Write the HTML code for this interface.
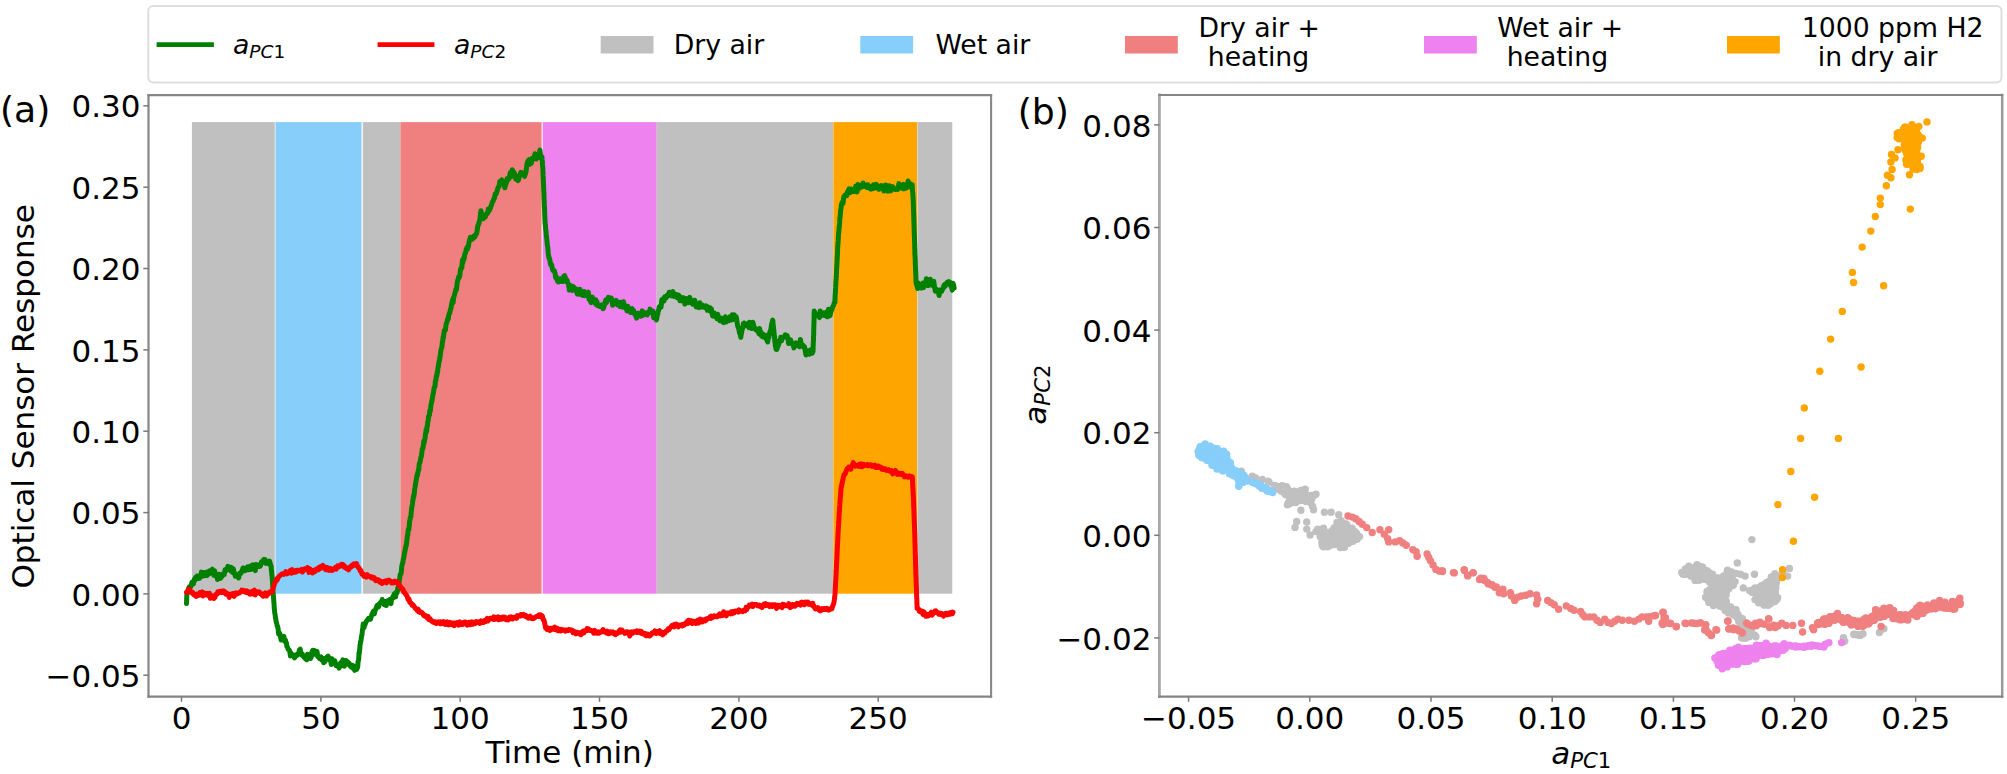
<!DOCTYPE html>
<html lang="en"><head><meta charset="utf-8"><title>Optical sensor response: PCA scores</title>
<style>html,body{margin:0;padding:0;background:#fff}body{width:2007px;height:774px;overflow:hidden}svg text{white-space:pre}</style></head>
<body>
<svg width="2007" height="774" viewBox="0 0 2007 774" style="display:block" font-family="DejaVu Sans, Liberation Sans, sans-serif" fill="#000">
<rect width="2007" height="774" fill="#fff"/>
<rect x="191.9" y="122.1" width="82.9" height="471.6" fill="#c0c0c0"/>
<rect x="275.5" y="122.1" width="86.0" height="471.6" fill="#87cefa"/>
<rect x="362.8" y="122.1" width="37.6" height="471.6" fill="#c0c0c0"/>
<rect x="400.4" y="122.1" width="141.2" height="471.6" fill="#f08080"/>
<rect x="542.7" y="122.1" width="114.0" height="471.6" fill="#ee82ee"/>
<rect x="656.7" y="122.1" width="176.3" height="471.6" fill="#c0c0c0"/>
<rect x="833.3" y="122.1" width="83.9" height="471.6" fill="#ffa500"/>
<rect x="917.5" y="122.1" width="34.8" height="471.6" fill="#c0c0c0"/>
<polyline points="186.5,603.6 186.6,601.8 186.7,599.7 186.7,597.5 186.8,595.5 187.2,592.8 187.6,592.1 188.0,592.0 188.7,588.1 189.3,586.9 190.0,587.7 190.7,586.5 191.3,585.0 192.0,582.2 192.7,583.1 193.4,583.8 194.2,579.5 194.9,580.5 195.6,577.3 196.3,577.8 197.1,576.2 197.8,578.5 198.5,576.0 199.2,578.4 199.9,577.9 200.7,576.8 201.4,572.1 202.1,575.5 202.8,576.0 203.6,575.9 204.3,572.5 205.0,574.1 205.7,572.7 206.3,572.6 207.0,575.6 207.7,571.7 208.3,572.7 209.0,574.0 209.7,570.8 210.4,571.3 211.0,571.2 211.7,570.7 212.4,569.2 213.1,572.2 213.8,575.2 214.6,570.8 215.3,575.8 216.0,575.2 216.8,574.2 217.5,579.5 218.2,577.5 219.0,574.2 219.8,577.0 220.5,578.3 221.2,575.8 222.0,576.3 222.8,574.0 223.5,574.2 224.2,574.5 225.0,569.8 225.7,570.8 226.4,568.9 227.2,569.4 227.9,566.4 228.6,566.9 229.3,566.9 230.0,569.7 230.6,570.9 231.3,567.4 232.0,569.2 232.7,572.5 233.3,568.7 234.0,572.2 234.7,573.3 235.3,576.3 236.0,575.8 236.7,574.5 237.3,574.9 238.0,575.6 238.7,577.9 239.4,573.6 240.1,573.0 240.9,573.2 241.6,571.5 242.3,570.5 243.0,568.0 243.7,569.5 244.3,568.3 244.9,570.8 245.6,569.4 246.2,567.7 246.9,568.6 247.6,566.9 248.4,569.8 249.1,568.0 249.8,569.4 250.5,566.0 251.3,569.4 252.0,565.7 252.7,564.8 253.3,567.4 254.0,565.8 254.7,567.3 255.3,570.6 256.0,564.4 256.7,564.6 257.3,566.1 258.0,566.5 258.7,565.0 259.3,564.8 260.0,566.3 260.7,565.2 261.5,561.7 262.2,562.7 262.9,562.2 263.7,559.5 264.4,561.2 265.1,559.6 265.8,563.4 266.6,562.4 267.3,562.7 268.0,561.9 268.8,563.6 269.5,561.1 270.2,563.4 271.0,566.7 271.2,566.2 271.4,570.9 271.6,570.5 271.8,574.8 272.0,575.3 272.2,578.7 272.4,580.1 272.5,581.0 272.6,584.7 272.7,586.8 272.9,587.8 273.0,589.6 273.1,591.6 273.2,593.0 273.4,596.6 273.5,597.4 273.7,599.8 273.8,601.3 274.0,603.4 274.1,605.0 274.3,609.1 274.5,609.8 274.7,612.9 275.0,613.9 275.2,615.2 275.4,617.4 275.8,619.1 276.2,621.9 276.7,623.4 277.1,625.6 277.5,626.1 278.1,628.7 278.6,634.1 279.2,632.6 279.8,633.8 280.5,637.1 281.1,640.0 281.8,636.4 282.5,639.6 283.2,638.7 283.9,636.4 284.6,641.3 285.3,639.8 285.9,641.9 286.4,642.9 286.9,646.6 287.5,647.2 288.2,649.4 289.0,649.6 289.7,650.9 290.4,656.0 291.1,653.1 291.8,655.0 292.5,654.9 293.2,654.8 293.9,655.3 294.5,657.9 295.2,656.8 296.0,655.7 296.7,654.5 297.5,655.0 298.2,653.5 298.8,652.2 299.5,649.7 300.2,649.2 300.9,654.1 301.6,655.0 302.3,653.9 303.0,656.0 303.8,657.0 304.5,657.7 305.2,658.5 306.0,656.5 306.8,659.8 307.5,654.3 308.2,657.8 309.0,656.7 309.8,657.0 310.5,658.5 311.2,657.2 312.0,651.9 312.8,650.3 313.5,654.4 314.2,650.5 315.0,651.9 315.7,654.3 316.3,651.2 317.0,651.4 317.7,656.4 318.3,657.1 319.0,657.6 319.7,658.6 320.3,657.5 321.0,656.9 321.7,659.9 322.4,658.9 323.0,658.3 323.7,662.8 324.4,661.1 325.1,661.3 325.9,658.1 326.6,658.1 327.3,656.8 328.0,656.2 328.7,658.9 329.3,657.7 330.0,660.3 330.7,660.8 331.3,664.5 332.0,658.8 332.7,663.5 333.3,662.3 334.0,663.0 334.7,660.7 335.5,663.0 336.2,665.7 336.9,664.5 337.6,665.3 338.4,665.0 339.1,668.1 339.8,666.3 340.6,662.7 341.3,665.9 342.0,662.9 342.8,659.8 343.5,663.7 344.3,666.2 345.0,663.1 345.7,660.5 346.4,660.6 347.2,664.3 347.9,662.1 348.6,662.7 349.3,663.4 349.9,664.5 350.6,666.7 351.3,667.1 352.0,667.4 352.7,665.4 353.3,668.6 354.0,666.7 354.6,670.4 355.3,666.3 355.9,668.8 356.6,669.4 357.0,665.9 357.4,668.0 357.8,665.8 358.1,661.3 358.5,660.5 358.8,657.8 359.0,652.7 359.3,653.2 359.5,650.7 359.8,648.7 360.0,645.4 360.3,643.9 360.5,641.8 360.9,641.2 361.3,638.0 361.7,635.4 362.0,635.0 362.4,630.3 362.8,628.3 363.2,624.0 363.9,627.7 364.6,625.4 365.3,623.9 366.0,622.1 366.8,620.6 367.5,620.1 368.3,618.6 369.0,618.1 369.8,617.9 370.5,619.2 371.3,616.5 372.0,614.4 372.8,612.4 373.5,611.2 374.3,613.8 375.0,610.9 375.7,609.2 376.4,607.5 377.2,605.3 377.9,606.1 378.6,606.8 379.4,603.7 380.1,603.0 380.8,602.1 381.5,602.8 382.2,599.5 382.9,602.3 383.6,601.1 384.3,604.7 385.0,601.5 385.7,603.9 386.3,605.5 387.0,601.7 387.6,600.9 388.3,602.2 388.9,601.6 389.6,599.6 390.3,601.5 391.0,603.6 391.6,598.9 392.3,598.3 393.0,596.2 393.6,597.7 394.3,594.1 394.9,593.5 395.6,596.8 396.2,592.3 396.8,593.0 397.4,591.4 397.9,587.5 398.5,585.7 398.9,585.2 399.3,580.3 399.8,577.6 400.2,574.5 400.6,574.0 401.0,573.7 401.4,571.1 401.7,566.8 402.1,564.9 402.5,563.3 402.9,562.3 403.2,559.7 403.6,558.3 404.0,556.4 404.4,553.5 404.8,551.7 405.2,549.9 405.6,547.5 405.9,546.1 406.3,545.6 406.7,541.9 407.1,539.2 407.5,535.0 407.8,535.3 408.1,530.7 408.4,529.2 408.8,529.6 409.1,527.4 409.4,524.3 409.7,520.5 410.0,519.9 410.3,517.5 410.6,516.9 410.9,516.6 411.2,512.2 411.6,509.1 411.9,506.5 412.2,505.7 412.5,503.5 412.8,500.3 413.1,499.6 413.4,496.1 413.8,496.6 414.1,494.4 414.4,492.4 414.7,488.6 415.0,487.6 415.4,484.8 415.8,482.3 416.2,480.3 416.7,477.0 417.1,474.8 417.5,475.5 417.9,472.2 418.3,470.6 418.8,469.5 419.2,464.0 419.6,463.1 420.0,462.2 420.4,460.4 420.8,457.4 421.2,457.0 421.7,453.9 422.1,450.1 422.5,448.3 422.9,448.4 423.3,445.9 423.8,440.9 424.2,442.9 424.6,439.8 425.0,438.7 425.4,434.5 425.8,432.5 426.2,429.4 426.6,431.8 427.0,426.4 427.4,426.5 427.8,421.7 428.2,420.6 428.6,416.2 429.0,415.8 429.4,415.4 429.8,410.5 430.2,411.3 430.6,408.3 431.0,404.6 431.4,403.2 431.8,401.1 432.2,399.6 432.6,396.9 433.0,394.4 433.4,393.0 433.8,390.0 434.2,387.6 434.6,387.1 435.0,386.2 435.4,381.1 435.8,380.9 436.1,378.1 436.5,375.6 436.9,375.7 437.2,372.0 437.6,372.3 438.0,367.5 438.3,366.8 438.7,363.9 439.1,361.2 439.4,360.7 439.8,357.8 440.1,356.6 440.5,353.7 440.9,350.4 441.2,349.5 441.6,347.6 442.0,346.6 442.3,342.3 442.7,341.2 443.1,337.1 443.4,337.9 443.8,333.6 444.3,330.5 444.9,330.8 445.4,330.3 446.0,324.7 446.5,323.2 447.1,321.6 447.6,319.0 448.2,319.1 448.7,315.4 449.3,313.4 449.8,313.2 450.4,309.3 450.9,308.8 451.5,304.8 452.0,302.4 452.6,299.5 453.1,302.6 453.7,297.4 454.2,296.0 454.8,293.5 455.4,291.6 455.9,289.3 456.5,289.7 457.1,283.5 457.6,280.6 458.2,279.2 458.7,276.7 459.2,277.5 459.8,275.5 460.3,271.0 460.8,268.4 461.3,267.7 461.8,268.0 462.4,260.2 462.9,262.7 463.4,258.4 464.1,259.2 464.8,254.0 465.6,252.9 466.3,249.0 467.0,247.6 467.6,249.1 468.3,246.4 469.0,242.6 469.6,239.9 470.4,237.2 471.2,239.4 472.0,239.4 472.7,238.8 473.4,238.2 474.1,235.7 474.8,237.1 475.5,234.8 476.1,234.4 476.8,232.9 477.5,227.8 478.1,225.0 478.7,224.2 479.3,221.6 479.9,219.7 480.1,218.6 480.2,215.9 480.4,215.4 480.6,212.9 481.0,210.8 481.2,212.3 481.5,213.9 481.8,215.9 482.0,218.6 482.7,217.6 483.4,218.6 484.1,217.7 484.7,214.8 485.4,217.0 486.1,214.2 486.8,214.1 487.6,213.3 488.3,209.0 489.0,211.1 489.8,209.6 490.5,207.5 491.3,205.4 491.9,203.9 492.6,201.4 493.2,200.8 493.9,198.8 494.5,198.1 495.2,194.1 496.0,194.2 496.8,191.9 497.5,189.4 498.3,187.1 499.0,186.7 499.8,181.4 500.4,183.1 501.1,181.2 501.7,179.8 502.5,182.0 503.3,182.5 504.1,184.6 504.8,187.7 505.5,185.3 506.3,183.2 507.0,178.7 507.6,180.2 508.3,179.6 508.9,177.9 509.6,176.3 510.3,172.6 510.9,176.9 511.6,174.5 512.3,169.7 513.0,174.8 513.7,172.1 514.4,173.1 515.1,175.0 515.8,179.1 516.5,176.9 517.2,178.7 517.9,180.6 518.7,179.6 519.4,175.8 520.1,174.9 520.8,172.3 521.6,172.6 522.3,173.9 523.1,174.3 523.8,174.3 524.6,176.4 525.4,173.7 525.7,172.9 526.0,171.8 526.2,169.6 526.5,168.2 526.8,165.7 527.2,163.1 527.5,162.3 528.3,160.4 529.0,159.7 529.8,164.3 530.6,163.7 531.4,163.0 532.2,158.4 532.9,159.3 533.7,157.5 534.4,156.6 535.0,153.7 535.7,157.0 536.3,159.0 537.0,157.7 537.7,155.5 538.5,156.2 539.2,157.3 539.9,150.1 540.6,155.4 541.3,156.9 542.0,157.0 542.1,159.2 542.3,160.8 542.4,162.2 542.5,164.2 542.7,166.6 542.8,167.7 542.9,170.2 543.0,172.9 543.1,175.7 543.2,176.8 543.3,179.1 543.4,181.4 543.5,184.0 543.6,185.4 543.6,188.2 543.7,189.1 543.8,191.6 543.9,193.6 544.0,196.2 544.0,198.4 544.1,199.2 544.2,201.5 544.3,204.2 544.4,205.8 544.5,207.4 544.6,210.8 544.7,212.6 544.7,214.7 544.8,216.2 544.9,219.1 545.0,220.5 545.1,223.5 545.3,224.1 545.5,226.3 545.7,229.4 546.0,230.8 546.2,234.2 546.4,236.0 546.6,237.1 546.9,240.3 547.1,242.2 547.4,245.7 547.7,246.4 547.9,248.9 548.2,253.0 548.7,256.6 549.1,258.6 549.5,258.4 550.0,260.8 550.6,264.6 551.1,264.2 551.7,264.9 552.3,268.4 553.0,270.6 553.6,270.3 554.3,270.8 555.0,272.8 555.6,277.4 556.2,276.6 556.9,279.0 557.5,281.0 558.2,281.8 558.9,279.9 559.5,281.6 560.2,278.8 560.9,279.9 561.6,278.7 562.4,281.5 563.2,278.5 563.9,276.2 564.7,275.7 565.5,278.1 566.2,281.6 567.0,280.2 567.8,283.0 568.5,284.3 569.3,290.1 570.0,287.4 570.8,285.7 571.5,287.6 572.3,290.4 573.0,286.4 573.7,286.8 574.4,290.2 575.1,289.6 575.8,290.5 576.5,289.0 577.2,294.0 577.9,294.2 578.6,292.8 579.3,293.6 580.0,289.2 580.7,294.5 581.4,293.2 582.1,294.7 582.8,295.4 583.5,293.8 584.1,291.5 584.8,295.7 585.5,293.9 586.2,294.9 586.9,294.7 587.6,295.5 588.3,292.1 589.0,299.2 589.6,298.2 590.3,300.4 591.0,302.6 591.6,299.7 592.3,297.1 593.0,299.4 593.7,299.5 594.3,301.4 595.0,303.1 595.7,299.8 596.3,304.6 597.0,301.8 597.7,305.6 598.4,305.3 599.0,305.5 599.7,306.4 600.4,306.1 601.0,306.5 601.7,304.9 602.4,306.8 603.0,308.7 603.7,307.7 604.3,305.4 605.0,303.2 605.7,300.0 606.4,302.9 607.0,299.5 607.7,298.7 608.4,297.4 609.1,298.7 609.8,298.2 610.5,299.3 611.2,298.0 611.9,299.8 612.6,305.2 613.3,301.4 614.0,301.5 614.7,303.2 615.5,303.7 616.2,300.4 616.9,302.3 617.6,304.7 618.4,303.6 619.1,303.5 619.8,306.5 620.5,302.3 621.3,304.0 622.0,303.0 622.7,307.3 623.5,301.7 624.2,304.7 624.9,305.6 625.6,308.4 626.4,308.9 627.1,311.0 627.8,306.2 628.5,311.1 629.3,309.8 630.0,309.8 630.7,312.5 631.4,310.2 632.1,308.5 632.9,312.1 633.6,310.5 634.3,312.5 635.0,314.9 635.7,315.2 636.5,318.1 637.2,315.2 637.9,313.2 638.6,315.0 639.3,314.4 640.0,313.4 640.7,316.2 641.4,313.7 642.2,310.8 642.9,315.5 643.6,313.6 644.3,314.1 645.0,313.2 645.7,314.1 646.4,312.8 647.1,315.0 647.8,313.2 648.5,313.0 649.3,312.9 650.0,309.1 650.7,311.5 651.4,311.1 652.1,311.9 652.9,311.2 653.7,317.7 654.5,317.2 655.1,316.2 655.8,316.5 656.4,320.0 656.8,318.3 657.2,315.4 657.7,314.3 658.1,311.3 658.5,310.8 659.2,307.2 659.8,306.5 660.5,306.4 661.1,307.1 661.8,299.8 662.5,300.0 663.3,298.7 664.0,301.0 664.8,296.8 665.5,297.4 666.3,297.6 667.0,295.2 667.7,294.9 668.5,295.6 669.2,292.2 669.9,293.2 670.7,294.9 671.4,295.8 672.1,294.9 672.9,291.6 673.6,293.8 674.3,296.6 675.0,296.5 675.7,295.7 676.4,294.5 677.2,297.7 677.9,295.8 678.6,295.1 679.3,296.1 680.0,300.8 680.7,298.6 681.4,300.6 682.1,297.6 682.8,300.5 683.5,297.7 684.2,298.8 684.9,304.1 685.6,300.9 686.3,298.6 687.0,299.6 687.7,300.6 688.4,302.6 689.1,299.5 689.8,297.3 690.5,300.4 691.2,301.1 691.9,301.6 692.6,304.1 693.3,302.4 694.0,303.6 694.7,300.2 695.4,304.3 696.2,306.9 696.9,304.7 697.6,304.0 698.3,304.2 699.1,307.6 699.8,302.7 700.5,304.6 701.2,306.1 701.9,307.0 702.6,305.2 703.2,307.0 703.9,306.3 704.6,307.4 705.3,307.4 706.0,305.8 706.7,308.2 707.3,310.2 708.0,307.0 708.6,308.6 709.3,310.6 709.9,307.6 710.6,310.2 711.3,308.7 712.0,313.3 712.7,316.1 713.4,316.2 714.2,312.9 714.9,315.3 715.6,314.9 716.3,315.5 717.0,318.8 717.7,314.2 718.4,319.0 719.1,317.6 719.8,320.8 720.5,319.1 721.2,318.1 721.9,320.4 722.6,321.8 723.3,321.1 724.0,322.6 724.7,320.2 725.3,316.8 726.0,322.1 726.7,321.3 727.3,319.9 728.0,319.3 728.7,320.7 729.3,317.5 730.0,316.7 730.7,317.5 731.5,320.0 732.2,314.8 732.9,319.6 733.6,315.9 734.3,314.8 735.1,319.2 735.8,316.4 736.3,317.2 736.9,320.7 737.4,324.7 738.0,327.3 738.5,327.4 739.1,330.7 739.6,333.3 740.2,333.6 740.8,337.4 741.2,334.5 741.7,331.8 742.1,329.7 742.6,328.3 743.0,326.2 743.5,323.1 744.2,323.0 745.0,325.8 745.8,323.9 746.5,325.1 747.2,325.5 748.0,324.2 748.7,327.6 749.4,322.3 750.1,325.7 750.8,324.1 751.4,328.5 752.1,328.6 752.8,322.2 753.5,324.5 754.2,327.9 754.9,328.8 755.6,329.5 756.2,328.8 756.9,330.4 757.6,331.5 758.3,330.9 759.0,333.6 759.6,328.5 760.3,334.4 761.0,332.2 761.7,336.3 762.3,334.8 763.0,334.2 763.7,337.1 764.4,335.4 765.0,336.0 765.7,335.4 766.4,338.8 767.0,340.4 767.7,341.9 768.3,337.9 768.8,337.5 769.4,334.1 769.9,331.9 770.5,330.8 770.9,329.3 771.4,325.5 771.8,323.6 772.3,321.7 772.7,320.1 772.9,321.2 773.2,325.1 773.4,325.9 773.6,328.9 773.8,329.8 774.0,333.1 774.3,335.2 774.5,336.6 774.8,341.2 775.0,341.8 775.3,345.4 775.6,346.8 775.8,347.3 776.1,349.5 776.8,349.5 777.4,347.6 778.0,346.2 778.7,344.3 779.4,340.5 780.0,341.6 780.8,337.2 781.5,340.9 782.2,338.1 783.0,337.2 783.8,337.2 784.5,337.2 785.2,334.8 785.9,334.9 786.6,336.8 787.2,335.7 787.9,338.3 788.6,343.5 789.3,339.4 790.0,343.2 790.7,339.9 791.3,343.4 792.0,342.7 792.6,343.7 793.3,345.3 793.9,347.9 794.6,345.5 795.3,345.1 796.0,342.8 796.7,345.5 797.4,343.7 798.2,345.5 798.9,343.6 799.6,346.8 800.3,339.4 801.0,342.5 801.7,345.7 802.4,344.8 803.1,345.3 803.8,347.4 804.5,346.7 805.2,350.1 805.9,355.0 806.6,353.7 807.3,350.7 808.0,351.8 808.8,352.1 809.5,354.1 810.2,350.1 811.0,349.7 811.7,353.0 812.3,353.2 813.0,351.3 813.1,349.3 813.1,347.0 813.2,345.2 813.3,342.4 813.4,341.7 813.5,338.9 813.5,337.3 813.6,335.8 813.7,333.5 813.7,330.5 813.8,329.3 813.8,327.4 813.9,324.7 814.0,322.6 814.0,320.9 814.1,318.3 814.1,317.5 814.2,311.1 815.0,312.8 815.7,314.6 816.5,314.8 817.2,315.7 818.0,316.0 818.7,315.0 819.5,317.6 820.2,311.0 820.9,315.2 821.6,313.7 822.4,315.2 823.1,315.3 823.8,312.9 824.4,313.1 825.0,315.4 825.7,314.3 826.4,312.0 827.0,316.8 827.8,316.7 828.5,309.3 829.2,312.0 830.0,315.6 830.8,311.9 831.5,310.3 832.2,308.3 832.8,306.4 833.5,305.7 834.2,303.0 834.9,302.4 835.0,299.1 835.1,297.0 835.2,294.4 835.4,293.0 835.5,290.4 835.6,288.7 835.7,287.4 835.8,284.9 835.9,282.8 836.0,280.7 836.2,278.4 836.3,276.1 836.4,273.9 836.5,272.5 836.6,269.2 836.7,268.5 836.8,265.6 837.0,262.9 837.1,261.0 837.2,258.7 837.3,257.0 837.4,254.4 837.5,253.3 837.6,250.0 837.7,247.0 837.8,245.8 838.0,242.8 838.1,241.9 838.2,240.4 838.3,238.1 838.5,234.4 838.6,232.9 838.8,232.9 839.0,229.6 839.1,227.3 839.3,226.1 839.5,225.2 839.7,222.2 839.8,219.2 840.0,217.3 840.3,215.5 840.5,212.0 840.8,209.4 841.1,208.4 841.3,205.2 841.6,203.9 842.3,202.1 843.0,203.5 843.8,196.7 844.5,195.8 845.3,194.9 846.0,195.3 846.8,195.6 847.5,192.1 848.3,190.7 849.0,188.8 849.6,190.0 850.3,192.6 851.0,191.4 851.6,189.1 852.3,190.2 853.0,190.7 853.7,191.4 854.3,189.1 855.0,189.5 855.7,186.2 856.3,187.2 857.0,192.1 857.7,184.5 858.3,187.7 859.0,188.4 859.7,187.0 860.3,185.8 861.0,186.9 861.7,186.9 862.4,186.6 863.0,182.9 863.7,186.2 864.4,184.6 865.1,185.1 865.8,186.5 866.5,187.2 867.1,187.5 867.8,184.7 868.5,187.3 869.2,188.0 869.9,188.2 870.7,189.0 871.4,186.3 872.1,186.6 872.8,188.7 873.6,184.8 874.3,188.1 875.0,187.0 875.7,187.2 876.4,184.4 877.1,185.9 877.8,187.6 878.5,189.2 879.2,189.3 879.9,187.1 880.6,186.8 881.3,185.5 882.0,187.8 882.7,186.7 883.3,188.6 884.0,191.0 884.7,187.7 885.4,185.1 886.0,186.5 886.7,185.5 887.4,186.2 888.0,191.2 888.7,189.4 889.4,185.8 890.2,189.8 890.9,190.8 891.6,187.4 892.4,186.6 893.1,187.1 893.8,188.1 894.5,188.6 895.3,189.5 896.0,189.4 896.7,189.2 897.5,189.5 898.2,188.0 898.9,183.6 899.6,186.3 900.4,187.1 901.1,185.6 901.8,188.1 902.5,185.5 903.3,184.3 904.0,188.9 904.7,187.3 905.4,186.4 906.0,187.7 906.7,187.9 907.4,186.5 908.1,180.9 908.8,184.4 909.5,184.8 910.2,183.7 910.8,186.0 911.5,187.9 912.2,184.8 912.3,186.7 912.5,191.1 912.6,191.4 912.8,192.9 912.9,196.0 913.1,198.2 913.2,199.6 913.3,202.4 913.3,203.9 913.4,205.8 913.5,208.4 913.5,210.7 913.6,212.2 913.7,214.7 913.8,216.6 913.8,220.0 913.9,220.5 914.0,223.5 914.0,225.1 914.1,227.2 914.2,229.7 914.2,231.9 914.3,234.2 914.4,235.9 914.5,237.6 914.5,239.8 914.6,242.4 914.7,244.6 914.7,247.0 914.8,248.8 914.9,251.2 914.9,253.5 915.0,255.1 915.1,256.4 915.2,258.6 915.3,260.6 915.3,264.3 915.4,265.1 915.5,268.3 915.6,270.1 915.7,272.8 915.8,274.5 915.9,276.1 915.9,278.2 916.0,280.4 916.1,282.6 916.2,283.8 916.9,285.0 917.6,288.5 918.3,282.9 919.0,287.0 919.7,284.7 920.3,286.8 921.0,288.0 921.6,286.2 922.3,287.8 923.0,282.9 923.6,287.4 924.3,283.8 925.0,285.6 925.7,284.3 926.3,278.7 927.0,281.6 927.7,283.2 928.3,285.6 929.0,282.9 929.6,282.6 930.3,279.2 931.0,284.5 931.6,285.0 932.3,281.4 933.0,282.3 933.8,281.3 934.5,286.8 935.3,291.1 936.0,289.2 936.8,291.4 937.5,291.4 938.3,290.1 939.1,295.6 939.8,290.0 940.4,291.0 941.0,291.0 941.7,291.2 942.4,289.6 943.0,288.7 943.8,286.0 944.5,284.5 945.2,286.4 946.0,284.4 946.8,282.8 947.5,282.1 948.2,283.9 948.9,281.6 949.6,282.9 950.3,282.6 951.0,286.4 951.6,286.9 952.3,290.1 952.9,283.2 953.6,284.9 954.2,288.1" fill="none" stroke="#008000" stroke-width="5.0" stroke-linejoin="round" stroke-linecap="round"/>
<polyline points="186.5,592.4 187.2,591.3 187.8,591.8 188.5,589.2 189.2,589.3 189.9,589.8 190.6,591.9 191.3,592.5 192.0,591.9 192.7,592.7 193.4,594.4 194.2,594.9 194.9,594.4 195.6,595.9 196.3,596.4 197.0,594.1 197.6,595.1 198.3,595.4 199.0,594.3 199.7,592.7 200.3,594.0 201.0,594.7 201.7,595.3 202.3,591.9 203.0,596.1 203.7,592.7 204.3,594.4 205.0,594.6 205.8,594.7 206.5,594.3 207.2,593.5 208.0,595.4 208.8,594.6 209.5,593.3 210.2,598.2 211.0,596.6 211.8,597.8 212.5,595.7 213.2,598.0 214.0,598.4 214.8,597.6 215.5,595.6 216.2,594.0 217.0,594.2 217.8,591.9 218.5,591.6 219.2,592.6 219.9,591.3 220.6,591.6 221.3,591.2 222.0,592.5 222.7,591.5 223.4,591.0 224.0,592.6 224.7,591.6 225.3,592.6 226.0,594.2 226.7,593.0 227.3,594.2 228.0,593.8 228.6,595.5 229.3,597.3 230.0,595.0 230.6,595.6 231.3,594.4 232.0,593.9 232.7,593.6 233.3,595.7 234.0,596.3 234.7,594.4 235.3,593.1 236.0,594.1 236.7,593.0 237.4,593.8 238.2,593.1 238.9,592.9 239.6,592.9 240.3,591.7 241.1,591.6 241.8,590.2 242.5,591.1 243.2,590.4 243.9,591.6 244.7,591.0 245.4,592.0 246.1,592.5 246.8,590.9 247.6,591.6 248.3,591.6 249.0,593.2 249.7,594.0 250.4,593.3 251.0,592.2 251.7,593.8 252.4,591.2 253.1,593.9 253.7,592.0 254.4,590.1 255.1,595.0 255.8,594.0 256.4,591.7 257.1,592.7 257.8,592.4 258.5,592.9 259.2,591.8 259.9,592.7 260.6,593.9 261.3,594.0 262.0,595.0 262.7,594.2 263.3,596.3 264.0,593.7 264.6,594.7 265.3,592.9 265.9,593.6 266.6,596.0 267.3,593.6 268.1,594.3 268.8,593.4 269.5,592.1 270.1,592.3 270.8,591.8 271.5,591.5 272.1,592.1 272.8,589.8 273.6,586.8 274.3,584.4 275.0,583.0 275.8,580.5 276.5,579.1 277.2,580.0 277.9,578.0 278.7,576.8 279.4,576.2 280.1,575.2 280.8,574.7 281.6,574.1 282.3,574.1 283.0,573.6 283.7,574.3 284.4,573.0 285.1,572.9 285.8,571.7 286.5,573.9 287.3,572.6 288.0,573.4 288.7,572.2 289.4,572.5 290.1,570.7 290.8,571.2 291.5,573.1 292.2,569.6 292.9,571.8 293.6,572.3 294.2,571.2 294.9,571.6 295.6,572.1 296.3,570.4 297.0,571.4 297.7,570.2 298.4,570.3 299.1,570.3 299.7,570.6 300.4,570.8 301.1,571.1 301.8,569.3 302.5,572.0 303.2,570.9 304.0,570.1 304.7,568.8 305.4,568.7 306.1,568.9 306.8,569.1 307.6,567.7 308.3,570.1 309.0,572.4 309.8,568.6 310.5,571.5 311.2,571.3 312.0,571.2 312.7,573.0 313.4,570.2 314.1,570.9 314.9,571.6 315.6,569.7 316.3,569.1 317.0,569.1 317.8,568.3 318.5,569.8 319.2,567.3 320.0,568.6 320.8,566.5 321.5,567.9 322.2,567.4 322.9,565.3 323.6,567.7 324.2,566.9 324.9,567.6 325.6,569.6 326.3,567.3 327.0,567.5 327.7,569.9 328.4,568.9 329.1,570.3 329.8,569.3 330.4,568.3 331.1,569.2 331.8,570.5 332.5,570.4 333.2,569.1 334.0,568.7 334.8,568.2 335.5,567.3 336.2,569.1 337.0,567.0 337.7,565.7 338.4,565.9 339.1,566.7 339.9,566.3 340.6,565.3 341.3,564.5 342.0,565.5 342.8,564.4 343.5,565.1 344.2,567.3 345.0,566.5 345.7,567.6 346.4,568.7 347.2,568.6 347.9,568.4 348.6,569.8 349.3,568.2 349.9,566.9 350.6,567.4 351.3,566.8 352.0,565.2 352.7,565.9 353.3,565.6 354.0,563.8 354.6,565.3 355.3,565.1 355.9,564.8 356.6,563.7 357.3,565.8 358.0,567.0 358.6,568.1 359.3,568.1 360.0,570.5 360.6,570.1 361.3,571.8 361.9,574.0 362.6,573.5 363.2,574.6 363.9,576.2 364.5,575.2 365.2,575.5 365.9,576.2 366.5,577.2 367.2,574.6 367.8,576.0 368.5,576.1 369.2,576.2 369.9,576.6 370.6,576.7 371.4,577.9 372.1,577.0 372.8,578.1 373.5,578.5 374.2,577.7 374.9,578.9 375.6,580.6 376.4,579.9 377.1,579.6 377.8,580.5 378.5,580.2 379.2,581.5 380.0,582.3 380.8,581.1 381.5,581.9 382.2,583.4 383.0,582.2 383.7,582.5 384.4,581.1 385.1,581.0 385.8,580.9 386.5,582.9 387.3,580.5 388.1,580.3 388.8,580.1 389.6,580.4 390.2,581.3 390.9,581.2 391.6,583.0 392.2,581.7 392.9,583.0 393.5,582.2 394.3,582.7 395.0,581.0 395.8,582.3 396.5,582.5 397.3,582.5 397.9,581.9 398.6,585.1 399.2,585.0 399.9,585.8 400.5,586.8 401.2,587.7 401.8,589.1 402.5,588.8 403.2,589.9 403.8,591.8 404.5,592.6 405.2,593.5 406.0,594.6 406.8,595.6 407.5,597.5 408.2,599.6 409.0,599.2 409.8,602.3 410.5,602.9 411.2,603.1 412.0,605.2 412.8,604.6 413.5,605.5 414.2,606.5 415.0,607.9 415.8,608.7 416.5,609.2 417.2,610.4 418.0,609.2 418.7,611.9 419.3,610.7 420.0,611.8 420.6,612.5 421.3,612.3 421.9,612.6 422.6,613.4 423.3,614.7 424.0,615.6 424.6,616.1 425.3,615.3 426.0,615.9 426.6,616.3 427.3,617.9 428.0,616.3 428.7,619.5 429.4,618.4 430.0,618.6 430.7,620.0 431.4,621.0 432.0,620.8 432.7,621.9 433.4,621.5 434.1,622.7 434.9,622.8 435.6,621.8 436.3,623.4 437.1,622.4 437.8,622.5 438.5,621.8 439.3,622.6 440.0,623.7 440.7,621.9 441.4,623.8 442.2,623.6 442.9,623.6 443.6,621.5 444.3,623.5 445.0,624.3 445.7,623.1 446.5,624.0 447.2,621.9 447.9,624.7 448.6,623.5 449.3,624.8 450.0,622.3 450.7,624.5 451.4,623.7 452.1,624.5 452.8,623.0 453.5,623.2 454.2,625.7 454.9,622.9 455.6,623.0 456.3,623.3 457.0,622.6 457.7,624.5 458.4,625.0 459.1,622.8 459.8,621.9 460.5,624.4 461.2,624.4 461.8,624.1 462.5,624.4 463.2,622.5 463.9,623.1 464.6,622.0 465.3,622.0 466.0,624.1 466.7,622.6 467.4,625.2 468.1,623.2 468.8,622.5 469.5,623.8 470.2,624.7 470.9,623.5 471.6,621.9 472.3,623.4 473.0,624.2 473.7,622.5 474.3,622.2 475.0,623.7 475.7,622.9 476.4,621.7 477.0,622.3 477.7,621.9 478.4,622.8 479.1,622.5 479.7,623.4 480.4,622.9 481.1,620.8 481.7,622.3 482.4,622.5 483.0,622.0 483.7,622.3 484.3,620.7 485.0,620.2 485.8,621.6 486.5,619.6 487.2,618.4 488.0,621.0 488.8,619.2 489.5,619.3 490.2,618.2 490.9,618.2 491.7,618.2 492.4,618.8 493.1,619.3 493.8,616.8 494.6,619.4 495.3,617.6 496.0,617.6 496.7,619.0 497.4,618.3 498.0,616.9 498.7,619.8 499.4,617.3 500.1,618.3 500.7,618.1 501.4,619.1 502.1,617.4 502.8,618.7 503.5,617.2 504.2,618.9 504.9,617.2 505.6,617.6 506.2,619.6 506.9,618.2 507.6,618.1 508.3,620.0 509.0,618.3 509.7,617.2 510.4,618.6 511.1,616.9 511.8,618.9 512.5,619.0 513.1,617.4 513.8,617.3 514.5,618.0 515.2,617.8 515.9,616.9 516.6,618.3 517.3,615.6 518.0,616.5 518.8,616.1 519.5,615.8 520.1,616.0 520.8,614.5 521.4,615.8 522.0,614.9 522.7,614.7 523.4,614.3 524.1,614.7 524.9,616.2 525.6,615.3 526.3,616.4 527.0,617.4 527.7,617.6 528.5,618.2 529.2,616.7 530.0,616.2 530.7,618.2 531.4,617.7 532.2,618.6 532.9,617.8 533.6,618.5 534.3,617.9 535.0,617.5 535.6,617.0 536.3,616.6 537.0,616.2 537.7,615.9 538.3,616.4 539.0,614.8 539.7,616.5 540.3,614.7 541.0,615.3 541.7,615.4 542.4,616.3 543.0,619.5 543.7,619.4 544.1,620.6 544.6,622.8 545.0,624.8 545.7,628.3 546.4,628.8 547.1,629.5 547.8,627.8 548.5,629.1 549.2,629.4 549.9,630.5 550.6,628.3 551.3,629.5 552.0,629.3 552.7,628.1 553.4,629.1 554.1,628.9 554.8,627.1 555.4,629.8 556.1,629.8 556.8,629.0 557.5,628.3 558.2,630.8 558.9,629.8 559.7,630.5 560.4,630.9 561.1,629.3 561.8,630.5 562.5,629.7 563.3,629.9 564.0,629.9 564.7,630.0 565.4,631.1 566.1,630.2 566.8,630.0 567.5,630.0 568.1,630.5 568.8,629.5 569.5,629.9 570.2,630.3 570.9,629.9 571.6,630.5 572.4,630.3 573.1,632.8 573.8,632.5 574.5,631.9 575.3,631.7 576.0,633.9 576.7,632.4 577.4,632.2 578.1,632.7 578.9,632.8 579.6,633.9 580.3,632.8 581.0,634.8 581.7,632.3 582.4,633.1 583.1,631.2 583.8,633.0 584.5,630.7 585.1,630.6 585.8,631.0 586.5,630.9 587.1,628.5 587.8,629.5 588.5,628.8 589.1,630.4 589.8,630.4 590.5,630.4 591.1,630.4 591.8,630.9 592.5,630.9 593.2,632.2 593.9,633.2 594.6,630.4 595.2,632.2 595.9,632.1 596.6,633.1 597.3,632.1 598.0,633.0 598.7,631.9 599.4,633.1 600.1,632.3 600.9,631.8 601.6,631.9 602.3,631.1 603.0,629.6 603.7,631.7 604.3,631.6 605.0,631.4 605.7,632.5 606.3,632.9 607.0,631.0 607.7,631.5 608.3,633.7 609.0,633.7 609.7,632.0 610.4,631.8 611.1,632.4 611.8,632.7 612.5,631.9 613.3,633.4 614.0,632.4 614.7,632.6 615.4,634.7 616.1,633.4 616.8,633.4 617.4,633.3 618.0,632.9 618.7,631.4 619.4,631.1 620.0,629.8 620.7,632.2 621.3,631.4 622.0,630.0 622.7,631.2 623.3,632.0 624.0,631.9 624.7,633.4 625.4,633.2 626.2,631.9 626.9,632.5 627.6,631.8 628.3,633.4 629.1,633.6 629.8,636.0 630.5,634.1 631.2,631.9 631.9,632.8 632.6,633.2 633.2,631.7 633.9,631.7 634.6,631.8 635.3,632.1 636.0,631.4 636.7,630.9 637.3,632.5 638.0,631.5 638.7,631.7 639.3,631.1 640.0,631.8 640.7,633.2 641.3,631.4 642.0,632.9 642.7,633.9 643.5,633.3 644.2,634.2 644.9,633.3 645.7,635.7 646.4,635.9 647.1,635.5 647.9,634.1 648.6,635.0 649.3,636.1 650.0,636.1 650.8,634.3 651.5,634.5 652.1,632.7 652.8,632.7 653.5,632.5 654.1,632.6 654.8,630.9 655.5,633.2 656.2,633.6 656.9,631.5 657.6,631.4 658.3,633.0 659.0,632.2 659.7,630.7 660.5,633.6 661.2,633.1 662.0,632.5 662.7,634.9 663.4,633.1 664.2,632.4 664.9,633.2 665.6,631.5 666.3,630.9 667.1,630.9 667.8,629.4 668.5,628.6 669.2,629.5 669.9,628.1 670.7,627.2 671.4,626.2 672.1,625.4 672.8,626.4 673.5,625.1 674.2,626.9 674.9,624.4 675.6,625.1 676.3,624.2 677.0,625.2 677.7,626.0 678.3,626.9 679.0,625.0 679.7,625.7 680.3,625.4 681.0,625.1 681.7,624.7 682.3,625.9 683.0,624.4 683.8,625.4 684.5,624.7 685.2,623.6 686.0,622.7 686.8,621.7 687.6,623.6 688.4,620.3 689.1,622.9 689.7,622.1 690.4,621.3 691.0,620.7 691.7,622.8 692.3,623.4 693.0,621.2 693.7,621.6 694.4,622.8 695.1,622.0 695.8,623.4 696.5,621.1 697.2,622.0 697.9,620.3 698.6,623.1 699.3,620.5 700.0,619.0 700.7,620.6 701.4,620.4 702.2,622.0 702.9,619.8 703.6,619.9 704.3,620.2 705.0,620.9 705.7,619.2 706.4,619.9 707.1,619.2 707.8,618.2 708.5,618.3 709.2,618.0 709.9,617.0 710.6,618.5 711.3,616.1 712.0,618.0 712.7,617.7 713.4,616.6 714.1,615.9 714.8,616.2 715.5,616.6 716.1,616.7 716.8,616.1 717.5,616.6 718.2,615.1 718.9,615.6 719.6,613.9 720.3,615.8 721.0,615.1 721.6,614.4 722.3,615.6 723.0,615.1 723.6,611.8 724.3,614.2 725.0,612.7 725.7,614.8 726.3,615.8 727.0,613.0 727.7,613.4 728.4,613.0 729.1,613.4 729.8,613.5 730.5,613.9 731.2,611.7 731.9,613.8 732.6,611.5 733.3,612.4 734.0,613.0 734.7,612.5 735.5,610.9 736.2,611.0 736.9,611.0 737.6,611.3 738.4,612.2 739.1,609.9 739.8,611.3 740.5,611.3 741.3,611.1 742.0,610.9 742.7,611.6 743.3,610.4 744.0,610.5 744.7,610.0 745.3,610.8 746.0,607.4 746.7,609.6 747.3,607.8 748.0,607.3 748.7,606.2 749.3,605.0 750.0,605.7 750.7,605.2 751.5,606.1 752.2,604.2 752.9,606.5 753.7,605.3 754.4,604.7 755.1,604.5 755.8,604.6 756.5,604.5 757.2,605.2 757.9,605.9 758.6,605.9 759.3,605.1 760.0,606.3 760.7,605.6 761.3,606.3 762.0,607.6 762.7,606.4 763.3,605.4 764.0,604.1 764.7,604.1 765.3,603.7 766.0,605.6 766.7,604.4 767.4,605.2 768.1,604.7 768.8,605.4 769.5,606.6 770.2,604.9 770.9,605.3 771.6,604.9 772.3,606.5 773.0,604.9 773.7,604.9 774.4,604.7 775.1,604.8 775.8,606.5 776.5,608.4 777.2,605.3 777.9,607.1 778.6,606.6 779.3,605.4 780.0,606.3 780.7,606.1 781.3,605.6 782.0,607.7 782.7,604.2 783.3,606.0 784.0,605.8 784.7,604.8 785.3,605.3 786.0,605.8 786.7,605.2 787.4,605.6 788.1,605.9 788.8,603.6 789.5,606.8 790.2,607.6 790.9,606.6 791.6,606.7 792.3,604.5 793.0,605.5 793.6,604.8 794.3,604.9 795.0,606.2 795.6,604.5 796.3,605.0 797.0,603.3 797.7,604.6 798.4,604.5 799.1,603.5 799.9,603.2 800.6,605.2 801.3,602.2 802.0,602.1 802.7,602.2 803.5,604.0 804.2,604.7 804.9,603.1 805.6,602.1 806.4,602.4 807.1,603.6 807.8,602.1 808.5,604.3 809.1,604.4 809.8,603.4 810.5,604.1 811.2,604.4 811.9,605.3 812.6,603.2 813.3,605.2 814.2,606.3 814.8,608.3 815.5,609.0 816.3,608.7 817.0,608.1 817.8,607.5 818.5,608.1 819.3,610.3 820.0,610.8 820.7,609.6 821.3,610.2 822.0,608.7 822.7,609.2 823.3,609.5 824.0,608.4 824.7,608.5 825.3,609.5 826.0,609.2 826.7,608.5 827.5,609.7 828.2,609.0 829.0,610.1 829.7,609.1 830.4,608.8 831.2,609.1 831.9,608.8 832.5,606.5 833.2,604.7 833.8,603.4 834.1,601.3 834.4,599.6 834.7,596.2 835.0,594.8 835.1,592.8 835.2,590.9 835.3,588.7 835.4,586.6 835.5,584.9 835.6,582.6 835.8,580.2 835.9,578.8 836.0,576.6 836.1,574.1 836.2,572.4 836.3,569.9 836.4,568.4 836.5,565.9 836.6,563.7 836.7,561.8 836.8,559.6 836.9,557.8 837.0,555.7 837.1,553.6 837.2,551.4 837.3,548.6 837.4,547.5 837.5,544.9 837.6,543.4 837.7,541.5 837.8,539.3 837.9,537.0 838.0,535.0 838.1,533.0 838.2,530.7 838.4,528.5 838.5,526.2 838.6,524.7 838.7,522.2 838.9,520.3 839.0,517.8 839.1,515.7 839.2,513.5 839.4,511.5 839.5,509.4 839.6,507.1 839.8,504.7 839.9,502.6 840.1,501.4 840.2,498.7 840.4,496.6 840.6,495.2 840.7,493.0 840.9,490.8 841.0,488.4 841.2,487.7 841.8,484.5 842.3,482.4 842.9,479.8 843.4,476.8 844.0,474.6 844.7,474.6 845.4,473.4 846.0,471.7 846.7,469.8 847.4,468.3 848.1,468.6 848.7,467.2 849.4,468.7 850.0,468.4 850.7,469.3 851.3,467.2 852.0,465.5 852.7,465.1 853.3,462.6 854.0,465.0 854.7,465.2 855.4,466.0 856.0,465.5 856.7,465.3 857.4,465.1 858.1,465.5 858.8,466.3 859.5,464.2 860.2,464.8 860.9,464.0 861.6,466.8 862.3,466.6 863.0,466.2 863.7,464.4 864.4,465.5 865.0,465.1 865.7,465.3 866.4,464.9 867.1,465.5 867.7,464.6 868.4,465.6 869.1,465.0 869.8,464.7 870.5,465.1 871.3,465.0 872.0,466.3 872.7,465.6 873.4,466.3 874.1,465.9 874.8,465.1 875.6,467.4 876.3,465.9 877.0,467.6 877.7,467.6 878.4,466.0 879.1,466.8 879.8,467.4 880.5,467.4 881.1,467.3 881.8,469.2 882.5,468.5 883.2,469.3 883.9,468.8 884.6,469.7 885.3,468.9 885.9,469.8 886.6,470.5 887.3,470.2 888.0,470.0 888.6,469.6 889.3,470.9 890.0,471.2 890.7,470.9 891.3,470.6 892.0,472.0 892.7,473.9 893.4,471.7 894.0,472.4 894.7,472.7 895.4,470.4 896.0,472.9 896.7,472.4 897.4,474.4 898.1,473.2 898.8,473.0 899.4,473.7 900.1,474.2 900.8,473.8 901.6,474.4 902.3,473.4 903.0,474.6 903.8,475.7 904.5,476.9 905.3,475.9 906.0,475.7 906.7,476.7 907.4,476.6 908.1,477.3 908.8,476.9 909.5,476.0 910.2,476.5 910.9,476.5 911.6,476.7 912.3,476.7 912.4,478.5 912.5,480.3 912.6,482.8 912.7,484.6 912.8,487.3 913.0,489.4 913.1,491.0 913.2,493.8 913.3,496.0 913.4,497.9 913.5,500.4 913.6,502.5 913.6,503.9 913.7,506.4 913.8,508.3 913.9,510.4 914.0,512.6 914.0,514.3 914.1,516.4 914.2,518.4 914.2,520.5 914.3,522.7 914.4,524.4 914.5,526.6 914.6,529.0 914.6,530.9 914.7,533.1 914.8,534.8 914.8,537.1 914.9,539.2 914.9,541.4 915.0,543.4 915.1,545.8 915.1,547.7 915.2,549.8 915.2,551.9 915.3,554.1 915.4,556.0 915.4,558.4 915.5,560.4 915.5,562.4 915.6,564.5 915.7,566.7 915.7,568.9 915.8,571.0 915.8,573.0 915.9,575.2 916.0,577.2 916.1,579.6 916.1,581.5 916.2,583.2 916.3,586.1 916.4,588.0 916.5,589.9 916.5,592.2 916.6,594.3 916.7,597.0 916.8,598.9 916.9,600.6 916.9,603.2 917.0,605.2 917.1,608.5 917.8,608.2 918.5,608.8 919.4,611.3 920.2,611.7 921.0,611.9 921.7,610.8 922.5,613.3 923.2,614.6 924.0,611.9 924.7,614.8 925.3,613.5 926.0,616.3 926.7,614.9 927.3,614.7 928.0,616.1 928.7,615.3 929.3,614.1 930.0,614.9 930.7,613.6 931.3,612.2 932.0,615.2 932.7,612.9 933.5,612.4 934.2,612.9 935.0,611.0 935.7,610.8 936.5,611.9 937.2,612.2 938.0,613.0 938.7,614.2 939.5,613.1 940.2,614.2 940.8,614.5 941.5,613.4 942.2,614.8 942.8,614.0 943.5,616.1 944.2,615.3 945.0,614.7 945.8,613.4 946.5,614.5 947.2,613.5 948.0,614.6 948.7,613.7 949.4,612.9 950.1,614.2 950.9,613.8 951.6,612.4 952.3,613.7 953.0,612.2" fill="none" stroke="#ff0000" stroke-width="5.0" stroke-linejoin="round" stroke-linecap="round"/>
<g stroke-linecap="square"><line x1="148.5" y1="95.1" x2="148.5" y2="696.6" stroke="#8a8a8a" stroke-width="2.3"/><line x1="991.1" y1="95.1" x2="991.1" y2="696.6" stroke="#888888" stroke-width="2.1"/><line x1="148.5" y1="95.1" x2="991.1" y2="95.1" stroke="#868686" stroke-width="2.1"/><line x1="148.5" y1="696.6" x2="991.1" y2="696.6" stroke="#848484" stroke-width="2.1"/></g>
<g stroke-linecap="square"><line x1="1159.4" y1="95.0" x2="1159.4" y2="696.6" stroke="#a8a8a8" stroke-width="2.8"/><line x1="2002.2" y1="95.0" x2="2002.2" y2="696.6" stroke="#9a9a9a" stroke-width="2.5"/><line x1="1159.4" y1="95.0" x2="2002.2" y2="95.0" stroke="#868686" stroke-width="2.1"/><line x1="1159.4" y1="696.6" x2="2002.2" y2="696.6" stroke="#848484" stroke-width="2.1"/></g>
<line x1="181.5" y1="696.6" x2="181.5" y2="701.8000000000001" stroke="#7a7a7a" stroke-width="1.5"/>
<text x="181.5" y="729.2" font-size="31" text-anchor="middle">0</text>
<line x1="320.9" y1="696.6" x2="320.9" y2="701.8000000000001" stroke="#7a7a7a" stroke-width="1.5"/>
<text x="320.9" y="729.2" font-size="31" text-anchor="middle">50</text>
<line x1="460.2" y1="696.6" x2="460.2" y2="701.8000000000001" stroke="#7a7a7a" stroke-width="1.5"/>
<text x="460.2" y="729.2" font-size="31" text-anchor="middle">100</text>
<line x1="599.5" y1="696.6" x2="599.5" y2="701.8000000000001" stroke="#7a7a7a" stroke-width="1.5"/>
<text x="599.5" y="729.2" font-size="31" text-anchor="middle">150</text>
<line x1="738.9" y1="696.6" x2="738.9" y2="701.8000000000001" stroke="#7a7a7a" stroke-width="1.5"/>
<text x="738.9" y="729.2" font-size="31" text-anchor="middle">200</text>
<line x1="878.2" y1="696.6" x2="878.2" y2="701.8000000000001" stroke="#7a7a7a" stroke-width="1.5"/>
<text x="878.2" y="729.2" font-size="31" text-anchor="middle">250</text>
<line x1="143.3" y1="675.2" x2="148.5" y2="675.2" stroke="#7a7a7a" stroke-width="1.5"/>
<text x="140.5" y="686.8" font-size="31" text-anchor="end">−0.05</text>
<line x1="143.3" y1="593.9" x2="148.5" y2="593.9" stroke="#7a7a7a" stroke-width="1.5"/>
<text x="140.5" y="605.5" font-size="31" text-anchor="end">0.00</text>
<line x1="143.3" y1="512.6" x2="148.5" y2="512.6" stroke="#7a7a7a" stroke-width="1.5"/>
<text x="140.5" y="524.2" font-size="31" text-anchor="end">0.05</text>
<line x1="143.3" y1="431.2" x2="148.5" y2="431.2" stroke="#7a7a7a" stroke-width="1.5"/>
<text x="140.5" y="442.8" font-size="31" text-anchor="end">0.10</text>
<line x1="143.3" y1="349.9" x2="148.5" y2="349.9" stroke="#7a7a7a" stroke-width="1.5"/>
<text x="140.5" y="361.5" font-size="31" text-anchor="end">0.15</text>
<line x1="143.3" y1="268.5" x2="148.5" y2="268.5" stroke="#7a7a7a" stroke-width="1.5"/>
<text x="140.5" y="280.1" font-size="31" text-anchor="end">0.20</text>
<line x1="143.3" y1="187.2" x2="148.5" y2="187.2" stroke="#7a7a7a" stroke-width="1.5"/>
<text x="140.5" y="198.8" font-size="31" text-anchor="end">0.25</text>
<line x1="143.3" y1="105.8" x2="148.5" y2="105.8" stroke="#7a7a7a" stroke-width="1.5"/>
<text x="140.5" y="117.4" font-size="31" text-anchor="end">0.30</text>
<line x1="1188.6" y1="696.6" x2="1188.6" y2="701.8000000000001" stroke="#7a7a7a" stroke-width="1.5"/>
<text x="1188.6" y="729.2" font-size="31" text-anchor="middle">−0.05</text>
<line x1="1309.8" y1="696.6" x2="1309.8" y2="701.8000000000001" stroke="#7a7a7a" stroke-width="1.5"/>
<text x="1309.8" y="729.2" font-size="31" text-anchor="middle">0.00</text>
<line x1="1431.0" y1="696.6" x2="1431.0" y2="701.8000000000001" stroke="#7a7a7a" stroke-width="1.5"/>
<text x="1431.0" y="729.2" font-size="31" text-anchor="middle">0.05</text>
<line x1="1552.2" y1="696.6" x2="1552.2" y2="701.8000000000001" stroke="#7a7a7a" stroke-width="1.5"/>
<text x="1552.2" y="729.2" font-size="31" text-anchor="middle">0.10</text>
<line x1="1673.4" y1="696.6" x2="1673.4" y2="701.8000000000001" stroke="#7a7a7a" stroke-width="1.5"/>
<text x="1673.4" y="729.2" font-size="31" text-anchor="middle">0.15</text>
<line x1="1794.5" y1="696.6" x2="1794.5" y2="701.8000000000001" stroke="#7a7a7a" stroke-width="1.5"/>
<text x="1794.5" y="729.2" font-size="31" text-anchor="middle">0.20</text>
<line x1="1915.7" y1="696.6" x2="1915.7" y2="701.8000000000001" stroke="#7a7a7a" stroke-width="1.5"/>
<text x="1915.7" y="729.2" font-size="31" text-anchor="middle">0.25</text>
<line x1="1154.2000000000003" y1="637.9" x2="1159.4" y2="637.9" stroke="#7a7a7a" stroke-width="1.5"/>
<text x="1151.4" y="649.5" font-size="31" text-anchor="end">−0.02</text>
<line x1="1154.2000000000003" y1="535.3" x2="1159.4" y2="535.3" stroke="#7a7a7a" stroke-width="1.5"/>
<text x="1151.4" y="546.9" font-size="31" text-anchor="end">0.00</text>
<line x1="1154.2000000000003" y1="432.7" x2="1159.4" y2="432.7" stroke="#7a7a7a" stroke-width="1.5"/>
<text x="1151.4" y="444.3" font-size="31" text-anchor="end">0.02</text>
<line x1="1154.2000000000003" y1="330.1" x2="1159.4" y2="330.1" stroke="#7a7a7a" stroke-width="1.5"/>
<text x="1151.4" y="341.7" font-size="31" text-anchor="end">0.04</text>
<line x1="1154.2000000000003" y1="227.5" x2="1159.4" y2="227.5" stroke="#7a7a7a" stroke-width="1.5"/>
<text x="1151.4" y="239.1" font-size="31" text-anchor="end">0.06</text>
<line x1="1154.2000000000003" y1="124.9" x2="1159.4" y2="124.9" stroke="#7a7a7a" stroke-width="1.5"/>
<text x="1151.4" y="136.5" font-size="31" text-anchor="end">0.08</text>
<text x="569.6" y="763.2" font-size="31" text-anchor="middle">Time (min)</text>
<text transform="translate(34.3,396.4) rotate(-90)" font-size="31" text-anchor="middle">Optical Sensor Response</text>
<text x="1581.3" y="764.0" font-size="31" text-anchor="middle" font-style="italic">a<tspan font-size="21.2" dy="4.2">PC</tspan><tspan font-size="21.2" font-style="normal">1</tspan></text>
<text transform="translate(1045.9,394.6) rotate(-90)" font-size="31" text-anchor="middle" font-style="italic">a<tspan font-size="21.2" dy="4.2">PC</tspan><tspan font-size="21.2" font-style="normal">2</tspan></text>
<text x="0" y="121.8" font-size="36.2">(a)</text>
<text x="1017.7" y="124.3" font-size="36.2">(b)</text>
<rect x="148.3" y="6" width="1853.2" height="76.6" rx="5" ry="5" fill="#fff" stroke="#dedede" stroke-width="2"/>
<line x1="156.6" y1="44.6" x2="213.9" y2="44.6" stroke="#008000" stroke-width="4.9"/>
<text x="233" y="54.3" font-size="26.7" font-style="italic">a<tspan font-size="18.5" dy="3.9">PC</tspan><tspan font-size="18.5" font-style="normal">1</tspan></text>
<line x1="377.6" y1="44.6" x2="434.4" y2="44.6" stroke="#ff0000" stroke-width="4.9"/>
<text x="454" y="54.3" font-size="26.7" font-style="italic">a<tspan font-size="18.5" dy="3.9">PC</tspan><tspan font-size="18.5" font-style="normal">2</tspan></text>
<rect x="600.7" y="36" width="52.8" height="17.5" fill="#c0c0c0"/>
<text x="673.7" y="54" font-size="26.7">Dry air</text>
<rect x="860.3" y="36" width="52.8" height="17.5" fill="#87cefa"/>
<text x="935.4" y="54" font-size="26.7">Wet air</text>
<rect x="1125.0" y="36" width="52.8" height="17.5" fill="#f08080"/>
<text x="1259.2" y="36.5" font-size="26.7" text-anchor="middle">Dry air +</text>
<text x="1258.5" y="65.9" font-size="26.7" text-anchor="middle">heating</text>
<rect x="1424.0" y="36" width="52.8" height="17.5" fill="#ee82ee"/>
<text x="1560.2" y="36.5" font-size="26.7" text-anchor="middle">Wet air +</text>
<text x="1557.4" y="65.9" font-size="26.7" text-anchor="middle">heating</text>
<rect x="1727.0" y="36" width="52.8" height="17.5" fill="#ffa500"/>
<text x="1892.6" y="36.5" font-size="26.7" text-anchor="middle">1000 ppm H2</text>
<text x="1877.6" y="65.7" font-size="26.7" text-anchor="middle">in dry air</text>
<g fill="#c0c0c0"><circle cx="1274.4" cy="485.4" r="3.7"/><circle cx="1279.4" cy="486.8" r="3.7"/><circle cx="1282.6" cy="488.0" r="3.7"/><circle cx="1286.4" cy="486.6" r="3.7"/><circle cx="1280.3" cy="490.2" r="3.7"/><circle cx="1282.1" cy="489.8" r="3.7"/><circle cx="1287.5" cy="490.0" r="3.7"/><circle cx="1289.2" cy="491.1" r="3.7"/><circle cx="1303.4" cy="491.2" r="3.7"/><circle cx="1284.3" cy="493.1" r="3.7"/><circle cx="1289.0" cy="492.7" r="3.7"/><circle cx="1290.8" cy="493.9" r="3.7"/><circle cx="1295.8" cy="492.3" r="3.7"/><circle cx="1295.7" cy="492.0" r="3.7"/><circle cx="1300.2" cy="493.1" r="3.7"/><circle cx="1293.5" cy="495.9" r="3.7"/><circle cx="1295.6" cy="496.1" r="3.7"/><circle cx="1298.6" cy="495.9" r="3.7"/><circle cx="1302.0" cy="498.1" r="3.7"/><circle cx="1306.4" cy="495.3" r="3.7"/><circle cx="1308.2" cy="495.6" r="3.7"/><circle cx="1310.8" cy="495.4" r="3.7"/><circle cx="1290.8" cy="499.5" r="3.7"/><circle cx="1294.2" cy="498.1" r="3.7"/><circle cx="1296.7" cy="497.8" r="3.7"/><circle cx="1300.9" cy="498.6" r="3.7"/><circle cx="1305.1" cy="498.3" r="3.7"/><circle cx="1308.2" cy="499.0" r="3.7"/><circle cx="1310.6" cy="497.2" r="3.7"/><circle cx="1288.7" cy="502.1" r="3.7"/><circle cx="1294.1" cy="501.7" r="3.7"/><circle cx="1296.8" cy="501.2" r="3.7"/><circle cx="1308.7" cy="501.0" r="3.7"/><circle cx="1269.0" cy="482.1" r="3.7"/><circle cx="1276.5" cy="486.3" r="3.7"/><circle cx="1282.4" cy="485.8" r="3.7"/><circle cx="1287.4" cy="488.8" r="3.7"/><circle cx="1294.2" cy="491.3" r="3.7"/><circle cx="1300.9" cy="490.5" r="3.7"/><circle cx="1305.1" cy="489.6" r="3.7"/><circle cx="1302.5" cy="493.5" r="3.7"/><circle cx="1309.3" cy="495.8" r="3.7"/><circle cx="1314.3" cy="495.2" r="3.7"/><circle cx="1311.8" cy="498.8" r="3.7"/><circle cx="1310.9" cy="503.0" r="3.7"/><circle cx="1305.9" cy="501.4" r="3.7"/><circle cx="1300.9" cy="500.5" r="3.7"/><circle cx="1295.8" cy="502.5" r="3.7"/><circle cx="1290.8" cy="503.0" r="3.7"/><circle cx="1288.8" cy="503.9" r="3.7"/><circle cx="1290.0" cy="499.2" r="3.7"/><circle cx="1292.5" cy="496.3" r="3.7"/><circle cx="1285.8" cy="494.7" r="3.7"/><circle cx="1281.6" cy="491.3" r="3.7"/><circle cx="1277.4" cy="488.8" r="3.7"/><circle cx="1337.6" cy="523.7" r="3.7"/><circle cx="1339.8" cy="523.2" r="3.7"/><circle cx="1343.6" cy="523.7" r="3.7"/><circle cx="1334.5" cy="527.6" r="3.7"/><circle cx="1338.6" cy="526.3" r="3.7"/><circle cx="1342.8" cy="527.1" r="3.7"/><circle cx="1344.7" cy="526.7" r="3.7"/><circle cx="1347.1" cy="525.7" r="3.7"/><circle cx="1319.0" cy="530.0" r="3.7"/><circle cx="1322.5" cy="529.6" r="3.7"/><circle cx="1336.1" cy="528.2" r="3.7"/><circle cx="1339.8" cy="529.2" r="3.7"/><circle cx="1343.7" cy="530.4" r="3.7"/><circle cx="1346.7" cy="529.7" r="3.7"/><circle cx="1349.1" cy="529.6" r="3.7"/><circle cx="1319.3" cy="531.4" r="3.7"/><circle cx="1322.3" cy="531.8" r="3.7"/><circle cx="1325.7" cy="532.1" r="3.7"/><circle cx="1331.6" cy="531.2" r="3.7"/><circle cx="1335.8" cy="530.5" r="3.7"/><circle cx="1337.9" cy="533.1" r="3.7"/><circle cx="1339.4" cy="531.3" r="3.7"/><circle cx="1345.3" cy="530.5" r="3.7"/><circle cx="1350.1" cy="529.7" r="3.7"/><circle cx="1352.3" cy="533.1" r="3.7"/><circle cx="1355.1" cy="531.6" r="3.7"/><circle cx="1321.1" cy="533.9" r="3.7"/><circle cx="1324.6" cy="533.7" r="3.7"/><circle cx="1327.0" cy="535.4" r="3.7"/><circle cx="1329.5" cy="534.3" r="3.7"/><circle cx="1333.7" cy="533.5" r="3.7"/><circle cx="1337.7" cy="534.9" r="3.7"/><circle cx="1338.8" cy="534.6" r="3.7"/><circle cx="1342.6" cy="534.1" r="3.7"/><circle cx="1346.4" cy="534.0" r="3.7"/><circle cx="1350.4" cy="534.0" r="3.7"/><circle cx="1353.6" cy="534.6" r="3.7"/><circle cx="1356.7" cy="534.2" r="3.7"/><circle cx="1322.0" cy="536.5" r="3.7"/><circle cx="1326.0" cy="538.1" r="3.7"/><circle cx="1330.5" cy="538.4" r="3.7"/><circle cx="1332.2" cy="537.2" r="3.7"/><circle cx="1335.5" cy="537.4" r="3.7"/><circle cx="1339.6" cy="538.1" r="3.7"/><circle cx="1340.9" cy="536.8" r="3.7"/><circle cx="1345.9" cy="537.6" r="3.7"/><circle cx="1347.8" cy="538.3" r="3.7"/><circle cx="1350.9" cy="537.2" r="3.7"/><circle cx="1354.0" cy="535.8" r="3.7"/><circle cx="1358.3" cy="536.4" r="3.7"/><circle cx="1323.5" cy="539.6" r="3.7"/><circle cx="1327.8" cy="540.1" r="3.7"/><circle cx="1330.4" cy="538.8" r="3.7"/><circle cx="1333.5" cy="539.0" r="3.7"/><circle cx="1337.0" cy="540.5" r="3.7"/><circle cx="1340.0" cy="541.8" r="3.7"/><circle cx="1343.6" cy="540.6" r="3.7"/><circle cx="1346.5" cy="540.0" r="3.7"/><circle cx="1350.4" cy="541.0" r="3.7"/><circle cx="1351.7" cy="541.0" r="3.7"/><circle cx="1322.8" cy="543.7" r="3.7"/><circle cx="1326.0" cy="542.0" r="3.7"/><circle cx="1327.8" cy="544.4" r="3.7"/><circle cx="1332.2" cy="541.8" r="3.7"/><circle cx="1335.5" cy="542.7" r="3.7"/><circle cx="1336.9" cy="541.1" r="3.7"/><circle cx="1340.3" cy="543.2" r="3.7"/><circle cx="1344.7" cy="542.8" r="3.7"/><circle cx="1348.2" cy="543.4" r="3.7"/><circle cx="1322.3" cy="545.5" r="3.7"/><circle cx="1326.5" cy="544.7" r="3.7"/><circle cx="1329.9" cy="545.6" r="3.7"/><circle cx="1339.8" cy="544.6" r="3.7"/><circle cx="1342.8" cy="547.3" r="3.7"/><circle cx="1317.7" cy="529.1" r="3.7"/><circle cx="1323.5" cy="528.2" r="3.7"/><circle cx="1329.4" cy="534.1" r="3.7"/><circle cx="1333.6" cy="529.1" r="3.7"/><circle cx="1337.0" cy="522.4" r="3.7"/><circle cx="1341.2" cy="520.7" r="3.7"/><circle cx="1346.2" cy="524.0" r="3.7"/><circle cx="1352.1" cy="528.2" r="3.7"/><circle cx="1356.3" cy="533.3" r="3.7"/><circle cx="1359.6" cy="536.6" r="3.7"/><circle cx="1357.1" cy="539.2" r="3.7"/><circle cx="1352.9" cy="541.2" r="3.7"/><circle cx="1348.7" cy="542.8" r="3.7"/><circle cx="1344.5" cy="547.2" r="3.7"/><circle cx="1340.3" cy="547.5" r="3.7"/><circle cx="1334.5" cy="544.5" r="3.7"/><circle cx="1327.7" cy="546.7" r="3.7"/><circle cx="1323.5" cy="546.7" r="3.7"/><circle cx="1321.9" cy="542.5" r="3.7"/><circle cx="1320.2" cy="536.6" r="3.7"/><circle cx="1316.0" cy="531.6" r="3.7"/><circle cx="1241.3" cy="471.1" r="3.7"/><circle cx="1252.2" cy="476.2" r="3.7"/><circle cx="1255.5" cy="477.9" r="3.7"/><circle cx="1262.2" cy="479.5" r="3.7"/><circle cx="1268.1" cy="481.2" r="3.7"/><circle cx="1300.9" cy="510.3" r="3.7"/><circle cx="1313.5" cy="509.8" r="3.7"/><circle cx="1312.6" cy="506.4" r="3.7"/><circle cx="1287.4" cy="504.7" r="3.7"/><circle cx="1324.4" cy="512.3" r="3.7"/><circle cx="1331.1" cy="512.3" r="3.7"/><circle cx="1338.7" cy="514.8" r="3.7"/><circle cx="1296.7" cy="521.5" r="3.7"/><circle cx="1295.0" cy="527.4" r="3.7"/><circle cx="1306.7" cy="522.0" r="3.7"/><circle cx="1306.7" cy="529.1" r="3.7"/><circle cx="1310.1" cy="535.0" r="3.7"/><circle cx="1305.1" cy="489.1" r="3.7"/><circle cx="1316.0" cy="494.3" r="3.7"/><circle cx="1688.9" cy="566.2" r="3.7"/><circle cx="1693.2" cy="568.0" r="3.7"/><circle cx="1696.5" cy="566.6" r="3.7"/><circle cx="1700.2" cy="566.9" r="3.7"/><circle cx="1701.7" cy="567.0" r="3.7"/><circle cx="1684.9" cy="570.9" r="3.7"/><circle cx="1688.7" cy="570.3" r="3.7"/><circle cx="1692.1" cy="570.4" r="3.7"/><circle cx="1695.3" cy="569.2" r="3.7"/><circle cx="1696.5" cy="570.9" r="3.7"/><circle cx="1699.8" cy="570.1" r="3.7"/><circle cx="1704.1" cy="569.9" r="3.7"/><circle cx="1683.0" cy="574.2" r="3.7"/><circle cx="1684.5" cy="573.8" r="3.7"/><circle cx="1691.6" cy="573.1" r="3.7"/><circle cx="1692.9" cy="573.7" r="3.7"/><circle cx="1697.6" cy="572.1" r="3.7"/><circle cx="1699.4" cy="572.9" r="3.7"/><circle cx="1703.0" cy="573.2" r="3.7"/><circle cx="1706.3" cy="572.7" r="3.7"/><circle cx="1709.0" cy="572.5" r="3.7"/><circle cx="1690.8" cy="575.8" r="3.7"/><circle cx="1694.4" cy="574.9" r="3.7"/><circle cx="1699.0" cy="575.8" r="3.7"/><circle cx="1699.9" cy="576.7" r="3.7"/><circle cx="1703.6" cy="576.3" r="3.7"/><circle cx="1707.3" cy="576.1" r="3.7"/><circle cx="1710.7" cy="575.4" r="3.7"/><circle cx="1713.8" cy="577.5" r="3.7"/><circle cx="1724.8" cy="575.9" r="3.7"/><circle cx="1730.1" cy="575.0" r="3.7"/><circle cx="1695.1" cy="580.4" r="3.7"/><circle cx="1699.1" cy="580.3" r="3.7"/><circle cx="1703.0" cy="578.7" r="3.7"/><circle cx="1706.1" cy="579.2" r="3.7"/><circle cx="1709.9" cy="579.0" r="3.7"/><circle cx="1712.3" cy="578.8" r="3.7"/><circle cx="1716.4" cy="579.3" r="3.7"/><circle cx="1717.8" cy="578.1" r="3.7"/><circle cx="1722.0" cy="578.2" r="3.7"/><circle cx="1724.7" cy="577.9" r="3.7"/><circle cx="1727.9" cy="579.0" r="3.7"/><circle cx="1732.2" cy="578.7" r="3.7"/><circle cx="1712.2" cy="581.4" r="3.7"/><circle cx="1716.3" cy="582.2" r="3.7"/><circle cx="1717.4" cy="581.0" r="3.7"/><circle cx="1717.9" cy="581.3" r="3.7"/><circle cx="1723.5" cy="583.0" r="3.7"/><circle cx="1725.5" cy="583.0" r="3.7"/><circle cx="1729.6" cy="582.0" r="3.7"/><circle cx="1730.9" cy="581.5" r="3.7"/><circle cx="1711.9" cy="584.8" r="3.7"/><circle cx="1715.4" cy="583.3" r="3.7"/><circle cx="1719.3" cy="584.8" r="3.7"/><circle cx="1722.2" cy="585.0" r="3.7"/><circle cx="1725.8" cy="584.2" r="3.7"/><circle cx="1727.1" cy="583.1" r="3.7"/><circle cx="1732.4" cy="584.8" r="3.7"/><circle cx="1713.8" cy="586.7" r="3.7"/><circle cx="1717.0" cy="587.0" r="3.7"/><circle cx="1719.9" cy="586.4" r="3.7"/><circle cx="1725.1" cy="587.2" r="3.7"/><circle cx="1726.1" cy="586.0" r="3.7"/><circle cx="1729.2" cy="587.6" r="3.7"/><circle cx="1709.6" cy="589.6" r="3.7"/><circle cx="1712.2" cy="589.5" r="3.7"/><circle cx="1714.5" cy="590.8" r="3.7"/><circle cx="1718.9" cy="591.8" r="3.7"/><circle cx="1721.2" cy="589.7" r="3.7"/><circle cx="1725.7" cy="589.6" r="3.7"/><circle cx="1727.0" cy="589.0" r="3.7"/><circle cx="1707.4" cy="592.8" r="3.7"/><circle cx="1710.5" cy="593.4" r="3.7"/><circle cx="1714.6" cy="592.8" r="3.7"/><circle cx="1717.0" cy="592.4" r="3.7"/><circle cx="1720.6" cy="593.3" r="3.7"/><circle cx="1723.4" cy="592.9" r="3.7"/><circle cx="1726.3" cy="591.4" r="3.7"/><circle cx="1708.2" cy="596.0" r="3.7"/><circle cx="1712.5" cy="596.6" r="3.7"/><circle cx="1715.4" cy="596.0" r="3.7"/><circle cx="1719.6" cy="596.2" r="3.7"/><circle cx="1721.3" cy="595.2" r="3.7"/><circle cx="1725.1" cy="594.6" r="3.7"/><circle cx="1707.7" cy="599.0" r="3.7"/><circle cx="1710.2" cy="599.7" r="3.7"/><circle cx="1713.5" cy="598.0" r="3.7"/><circle cx="1716.8" cy="597.6" r="3.7"/><circle cx="1720.5" cy="598.2" r="3.7"/><circle cx="1724.7" cy="598.6" r="3.7"/><circle cx="1709.4" cy="600.7" r="3.7"/><circle cx="1711.0" cy="600.9" r="3.7"/><circle cx="1714.7" cy="601.7" r="3.7"/><circle cx="1718.5" cy="602.3" r="3.7"/><circle cx="1722.3" cy="601.6" r="3.7"/><circle cx="1725.1" cy="601.1" r="3.7"/><circle cx="1714.3" cy="604.4" r="3.7"/><circle cx="1716.4" cy="604.1" r="3.7"/><circle cx="1722.3" cy="603.6" r="3.7"/><circle cx="1723.2" cy="603.2" r="3.7"/><circle cx="1725.4" cy="604.7" r="3.7"/><circle cx="1721.8" cy="606.7" r="3.7"/><circle cx="1726.4" cy="608.5" r="3.7"/><circle cx="1727.4" cy="607.3" r="3.7"/><circle cx="1727.1" cy="609.6" r="3.7"/><circle cx="1730.1" cy="609.3" r="3.7"/><circle cx="1734.2" cy="609.8" r="3.7"/><circle cx="1728.4" cy="613.1" r="3.7"/><circle cx="1732.1" cy="612.4" r="3.7"/><circle cx="1734.8" cy="613.5" r="3.7"/><circle cx="1736.6" cy="614.8" r="3.7"/><circle cx="1737.1" cy="617.4" r="3.7"/><circle cx="1740.1" cy="617.7" r="3.7"/><circle cx="1739.6" cy="618.8" r="3.7"/><circle cx="1742.6" cy="620.9" r="3.7"/><circle cx="1741.1" cy="622.4" r="3.7"/><circle cx="1745.2" cy="622.6" r="3.7"/><circle cx="1741.6" cy="625.1" r="3.7"/><circle cx="1745.7" cy="626.8" r="3.7"/><circle cx="1745.1" cy="628.9" r="3.7"/><circle cx="1746.4" cy="628.2" r="3.7"/><circle cx="1745.0" cy="631.4" r="3.7"/><circle cx="1747.5" cy="631.6" r="3.7"/><circle cx="1744.7" cy="634.2" r="3.7"/><circle cx="1747.7" cy="633.6" r="3.7"/><circle cx="1749.4" cy="633.8" r="3.7"/><circle cx="1754.7" cy="635.2" r="3.7"/><circle cx="1742.2" cy="638.1" r="3.7"/><circle cx="1745.5" cy="638.3" r="3.7"/><circle cx="1749.3" cy="636.8" r="3.7"/><circle cx="1681.8" cy="572.5" r="3.7"/><circle cx="1685.4" cy="568.9" r="3.7"/><circle cx="1697.1" cy="564.7" r="3.7"/><circle cx="1702.6" cy="567.1" r="3.7"/><circle cx="1707.1" cy="570.7" r="3.7"/><circle cx="1712.5" cy="574.3" r="3.7"/><circle cx="1717.9" cy="577.9" r="3.7"/><circle cx="1723.4" cy="576.1" r="3.7"/><circle cx="1727.0" cy="573.1" r="3.7"/><circle cx="1730.6" cy="575.2" r="3.7"/><circle cx="1735.1" cy="581.6" r="3.7"/><circle cx="1733.3" cy="585.2" r="3.7"/><circle cx="1728.8" cy="588.8" r="3.7"/><circle cx="1726.1" cy="595.1" r="3.7"/><circle cx="1726.4" cy="601.5" r="3.7"/><circle cx="1730.6" cy="606.9" r="3.7"/><circle cx="1736.0" cy="609.6" r="3.7"/><circle cx="1737.8" cy="614.1" r="3.7"/><circle cx="1742.4" cy="618.6" r="3.7"/><circle cx="1746.9" cy="623.2" r="3.7"/><circle cx="1751.4" cy="631.3" r="3.7"/><circle cx="1755.9" cy="636.7" r="3.7"/><circle cx="1741.5" cy="637.6" r="3.7"/><circle cx="1744.2" cy="633.1" r="3.7"/><circle cx="1741.5" cy="626.8" r="3.7"/><circle cx="1738.7" cy="621.4" r="3.7"/><circle cx="1733.3" cy="615.0" r="3.7"/><circle cx="1725.2" cy="610.5" r="3.7"/><circle cx="1719.7" cy="606.0" r="3.7"/><circle cx="1713.4" cy="605.6" r="3.7"/><circle cx="1708.9" cy="602.4" r="3.7"/><circle cx="1705.6" cy="597.3" r="3.7"/><circle cx="1707.1" cy="591.5" r="3.7"/><circle cx="1711.6" cy="586.1" r="3.7"/><circle cx="1708.9" cy="581.6" r="3.7"/><circle cx="1704.4" cy="579.2" r="3.7"/><circle cx="1697.1" cy="579.7" r="3.7"/><circle cx="1690.8" cy="576.1" r="3.7"/><circle cx="1685.4" cy="574.3" r="3.7"/><circle cx="1774.3" cy="575.9" r="3.7"/><circle cx="1776.1" cy="575.4" r="3.7"/><circle cx="1772.3" cy="579.3" r="3.7"/><circle cx="1775.2" cy="579.0" r="3.7"/><circle cx="1768.4" cy="581.8" r="3.7"/><circle cx="1769.9" cy="583.1" r="3.7"/><circle cx="1774.8" cy="582.4" r="3.7"/><circle cx="1764.3" cy="584.4" r="3.7"/><circle cx="1769.4" cy="584.9" r="3.7"/><circle cx="1773.3" cy="583.8" r="3.7"/><circle cx="1775.8" cy="584.4" r="3.7"/><circle cx="1758.7" cy="587.6" r="3.7"/><circle cx="1761.7" cy="587.2" r="3.7"/><circle cx="1762.9" cy="586.8" r="3.7"/><circle cx="1766.8" cy="586.9" r="3.7"/><circle cx="1771.4" cy="588.8" r="3.7"/><circle cx="1773.9" cy="586.9" r="3.7"/><circle cx="1752.8" cy="589.9" r="3.7"/><circle cx="1757.2" cy="590.7" r="3.7"/><circle cx="1759.7" cy="590.2" r="3.7"/><circle cx="1760.9" cy="589.9" r="3.7"/><circle cx="1764.8" cy="590.8" r="3.7"/><circle cx="1768.9" cy="589.8" r="3.7"/><circle cx="1771.8" cy="591.7" r="3.7"/><circle cx="1774.5" cy="589.7" r="3.7"/><circle cx="1754.3" cy="592.7" r="3.7"/><circle cx="1757.3" cy="593.7" r="3.7"/><circle cx="1762.2" cy="591.8" r="3.7"/><circle cx="1764.0" cy="593.3" r="3.7"/><circle cx="1767.2" cy="593.1" r="3.7"/><circle cx="1770.2" cy="594.1" r="3.7"/><circle cx="1773.3" cy="593.2" r="3.7"/><circle cx="1759.3" cy="596.1" r="3.7"/><circle cx="1762.3" cy="596.8" r="3.7"/><circle cx="1765.7" cy="596.2" r="3.7"/><circle cx="1768.8" cy="595.2" r="3.7"/><circle cx="1771.4" cy="595.2" r="3.7"/><circle cx="1775.4" cy="595.5" r="3.7"/><circle cx="1756.8" cy="599.0" r="3.7"/><circle cx="1761.3" cy="597.4" r="3.7"/><circle cx="1765.4" cy="598.9" r="3.7"/><circle cx="1767.2" cy="599.7" r="3.7"/><circle cx="1770.5" cy="598.4" r="3.7"/><circle cx="1775.4" cy="598.0" r="3.7"/><circle cx="1776.8" cy="599.5" r="3.7"/><circle cx="1758.4" cy="601.5" r="3.7"/><circle cx="1762.8" cy="603.5" r="3.7"/><circle cx="1764.9" cy="601.6" r="3.7"/><circle cx="1769.4" cy="601.7" r="3.7"/><circle cx="1771.1" cy="601.9" r="3.7"/><circle cx="1764.1" cy="604.8" r="3.7"/><circle cx="1768.2" cy="605.2" r="3.7"/><circle cx="1743.3" cy="587.9" r="3.7"/><circle cx="1749.6" cy="590.6" r="3.7"/><circle cx="1755.0" cy="587.9" r="3.7"/><circle cx="1761.4" cy="585.7" r="3.7"/><circle cx="1766.8" cy="582.5" r="3.7"/><circle cx="1771.3" cy="577.0" r="3.7"/><circle cx="1774.9" cy="573.8" r="3.7"/><circle cx="1779.4" cy="576.1" r="3.7"/><circle cx="1776.7" cy="581.6" r="3.7"/><circle cx="1775.8" cy="587.9" r="3.7"/><circle cx="1775.3" cy="592.4" r="3.7"/><circle cx="1777.6" cy="597.8" r="3.7"/><circle cx="1774.9" cy="601.5" r="3.7"/><circle cx="1770.4" cy="603.8" r="3.7"/><circle cx="1764.1" cy="605.1" r="3.7"/><circle cx="1758.6" cy="602.7" r="3.7"/><circle cx="1755.0" cy="599.6" r="3.7"/><circle cx="1756.8" cy="595.1" r="3.7"/><circle cx="1752.3" cy="592.4" r="3.7"/><circle cx="1789.4" cy="568.4" r="3.7"/><circle cx="1787.6" cy="576.1" r="3.7"/><circle cx="1783.1" cy="572.0" r="3.7"/><circle cx="1754.5" cy="574.3" r="3.7"/><circle cx="1737.3" cy="562.9" r="3.7"/><circle cx="1751.9" cy="539.6" r="3.7"/><circle cx="1745.1" cy="576.1" r="3.7"/><circle cx="1740.5" cy="574.3" r="3.7"/><circle cx="1736.0" cy="573.4" r="3.7"/><circle cx="1731.5" cy="572.0" r="3.7"/><circle cx="1727.5" cy="570.2" r="3.7"/><circle cx="1843.4" cy="637.6" r="3.7"/><circle cx="1844.7" cy="641.3" r="3.7"/><circle cx="1853.8" cy="634.5" r="3.7"/><circle cx="1857.4" cy="634.9" r="3.7"/><circle cx="1860.1" cy="635.4" r="3.7"/><circle cx="1854.3" cy="634.2" r="3.7"/><circle cx="1858.7" cy="634.6" r="3.7"/><circle cx="1863.0" cy="633.8" r="3.7"/><circle cx="1879.5" cy="632.5" r="3.7"/><circle cx="1883.9" cy="628.7" r="3.7"/></g>
<g fill="#87cefa"><circle cx="1202.4" cy="446.6" r="3.7"/><circle cx="1205.0" cy="446.2" r="3.7"/><circle cx="1208.5" cy="447.8" r="3.7"/><circle cx="1202.3" cy="449.0" r="3.7"/><circle cx="1205.4" cy="449.1" r="3.7"/><circle cx="1207.4" cy="449.9" r="3.7"/><circle cx="1210.3" cy="451.1" r="3.7"/><circle cx="1213.3" cy="448.2" r="3.7"/><circle cx="1217.1" cy="448.8" r="3.7"/><circle cx="1199.4" cy="449.4" r="3.7"/><circle cx="1203.4" cy="452.4" r="3.7"/><circle cx="1206.2" cy="452.6" r="3.7"/><circle cx="1210.0" cy="451.7" r="3.7"/><circle cx="1212.3" cy="451.2" r="3.7"/><circle cx="1214.3" cy="452.6" r="3.7"/><circle cx="1217.9" cy="450.7" r="3.7"/><circle cx="1220.9" cy="451.6" r="3.7"/><circle cx="1222.9" cy="452.1" r="3.7"/><circle cx="1200.8" cy="453.1" r="3.7"/><circle cx="1203.2" cy="455.8" r="3.7"/><circle cx="1205.9" cy="454.6" r="3.7"/><circle cx="1210.6" cy="454.9" r="3.7"/><circle cx="1212.1" cy="454.1" r="3.7"/><circle cx="1216.2" cy="455.0" r="3.7"/><circle cx="1218.6" cy="453.4" r="3.7"/><circle cx="1222.9" cy="455.3" r="3.7"/><circle cx="1225.4" cy="453.9" r="3.7"/><circle cx="1202.9" cy="457.1" r="3.7"/><circle cx="1206.3" cy="456.0" r="3.7"/><circle cx="1208.7" cy="456.9" r="3.7"/><circle cx="1210.7" cy="457.2" r="3.7"/><circle cx="1214.6" cy="456.7" r="3.7"/><circle cx="1217.9" cy="455.9" r="3.7"/><circle cx="1220.6" cy="457.3" r="3.7"/><circle cx="1223.8" cy="457.8" r="3.7"/><circle cx="1225.6" cy="455.8" r="3.7"/><circle cx="1207.3" cy="460.0" r="3.7"/><circle cx="1211.8" cy="460.1" r="3.7"/><circle cx="1212.4" cy="460.2" r="3.7"/><circle cx="1215.4" cy="458.4" r="3.7"/><circle cx="1221.2" cy="459.9" r="3.7"/><circle cx="1222.7" cy="460.0" r="3.7"/><circle cx="1226.5" cy="459.8" r="3.7"/><circle cx="1212.6" cy="461.4" r="3.7"/><circle cx="1213.5" cy="463.3" r="3.7"/><circle cx="1218.8" cy="462.6" r="3.7"/><circle cx="1220.8" cy="462.3" r="3.7"/><circle cx="1223.0" cy="463.4" r="3.7"/><circle cx="1227.1" cy="462.6" r="3.7"/><circle cx="1229.9" cy="463.0" r="3.7"/><circle cx="1213.5" cy="465.4" r="3.7"/><circle cx="1215.2" cy="465.2" r="3.7"/><circle cx="1220.8" cy="464.4" r="3.7"/><circle cx="1222.0" cy="465.5" r="3.7"/><circle cx="1225.9" cy="465.3" r="3.7"/><circle cx="1226.8" cy="465.2" r="3.7"/><circle cx="1216.7" cy="466.8" r="3.7"/><circle cx="1221.0" cy="467.2" r="3.7"/><circle cx="1224.2" cy="469.9" r="3.7"/><circle cx="1227.2" cy="468.0" r="3.7"/><circle cx="1228.9" cy="466.9" r="3.7"/><circle cx="1221.2" cy="469.6" r="3.7"/><circle cx="1224.2" cy="469.5" r="3.7"/><circle cx="1227.9" cy="469.2" r="3.7"/><circle cx="1230.0" cy="468.9" r="3.7"/><circle cx="1234.5" cy="470.1" r="3.7"/><circle cx="1230.4" cy="473.5" r="3.7"/><circle cx="1232.3" cy="473.2" r="3.7"/><circle cx="1234.4" cy="474.5" r="3.7"/><circle cx="1239.6" cy="472.5" r="3.7"/><circle cx="1233.2" cy="475.6" r="3.7"/><circle cx="1235.6" cy="474.6" r="3.7"/><circle cx="1240.7" cy="475.3" r="3.7"/><circle cx="1242.7" cy="476.0" r="3.7"/><circle cx="1237.8" cy="478.1" r="3.7"/><circle cx="1241.2" cy="477.2" r="3.7"/><circle cx="1245.0" cy="477.1" r="3.7"/><circle cx="1241.6" cy="480.0" r="3.7"/><circle cx="1244.7" cy="479.6" r="3.7"/><circle cx="1242.1" cy="482.1" r="3.7"/><circle cx="1198.1" cy="451.8" r="3.7"/><circle cx="1200.1" cy="446.8" r="3.7"/><circle cx="1205.2" cy="443.9" r="3.7"/><circle cx="1210.2" cy="446.3" r="3.7"/><circle cx="1216.9" cy="448.8" r="3.7"/><circle cx="1223.6" cy="451.3" r="3.7"/><circle cx="1226.6" cy="454.3" r="3.7"/><circle cx="1227.0" cy="458.5" r="3.7"/><circle cx="1230.3" cy="462.7" r="3.7"/><circle cx="1231.2" cy="467.3" r="3.7"/><circle cx="1237.1" cy="471.1" r="3.7"/><circle cx="1243.8" cy="475.3" r="3.7"/><circle cx="1246.3" cy="479.5" r="3.7"/><circle cx="1242.9" cy="482.4" r="3.7"/><circle cx="1239.1" cy="485.1" r="3.7"/><circle cx="1238.4" cy="480.4" r="3.7"/><circle cx="1235.4" cy="476.2" r="3.7"/><circle cx="1229.5" cy="473.7" r="3.7"/><circle cx="1222.8" cy="471.1" r="3.7"/><circle cx="1216.9" cy="469.0" r="3.7"/><circle cx="1211.9" cy="464.9" r="3.7"/><circle cx="1206.8" cy="460.2" r="3.7"/><circle cx="1201.8" cy="457.7" r="3.7"/><circle cx="1198.8" cy="455.2" r="3.7"/><circle cx="1269.2" cy="491.3" r="3.7"/><circle cx="1271.7" cy="491.1" r="3.7"/><circle cx="1266.2" cy="489.5" r="3.7"/><circle cx="1269.9" cy="491.1" r="3.7"/><circle cx="1246.0" cy="480.4" r="3.7"/><circle cx="1267.9" cy="489.8" r="3.7"/><circle cx="1262.2" cy="487.9" r="3.7"/><circle cx="1267.3" cy="491.0" r="3.7"/><circle cx="1266.6" cy="489.0" r="3.7"/><circle cx="1260.9" cy="485.9" r="3.7"/><circle cx="1260.1" cy="485.2" r="3.7"/><circle cx="1252.9" cy="481.9" r="3.7"/><circle cx="1247.4" cy="481.1" r="3.7"/><circle cx="1264.6" cy="487.6" r="3.7"/><circle cx="1254.8" cy="483.2" r="3.7"/><circle cx="1263.8" cy="487.4" r="3.7"/><circle cx="1258.1" cy="485.1" r="3.7"/><circle cx="1261.1" cy="486.1" r="3.7"/><circle cx="1262.0" cy="488.2" r="3.7"/><circle cx="1252.4" cy="482.3" r="3.7"/><circle cx="1258.0" cy="483.7" r="3.7"/><circle cx="1264.2" cy="487.7" r="3.7"/><circle cx="1272.7" cy="492.5" r="3.7"/><circle cx="1267.3" cy="490.8" r="3.7"/><circle cx="1259.7" cy="486.3" r="3.7"/><circle cx="1238.7" cy="486.3" r="3.7"/></g>
<g fill="#f08080"><circle cx="1348.0" cy="516.0" r="3.7"/><circle cx="1352.4" cy="517.1" r="3.7"/><circle cx="1355.7" cy="518.8" r="3.7"/><circle cx="1359.0" cy="521.5" r="3.7"/><circle cx="1362.3" cy="524.3" r="3.7"/><circle cx="1366.7" cy="527.6" r="3.7"/><circle cx="1372.2" cy="532.5" r="3.7"/><circle cx="1379.9" cy="529.8" r="3.7"/><circle cx="1388.7" cy="529.8" r="3.7"/><circle cx="1384.3" cy="534.2" r="3.7"/><circle cx="1387.6" cy="538.6" r="3.7"/><circle cx="1388.7" cy="541.9" r="3.7"/><circle cx="1395.2" cy="541.9" r="3.7"/><circle cx="1399.6" cy="540.8" r="3.7"/><circle cx="1402.9" cy="543.0" r="3.7"/><circle cx="1406.2" cy="545.2" r="3.7"/><circle cx="1412.8" cy="549.6" r="3.7"/><circle cx="1416.1" cy="551.8" r="3.7"/><circle cx="1417.2" cy="556.2" r="3.7"/><circle cx="1427.1" cy="554.0" r="3.7"/><circle cx="1428.6" cy="557.3" r="3.7"/><circle cx="1430.4" cy="560.6" r="3.7"/><circle cx="1433.0" cy="565.0" r="3.7"/><circle cx="1435.9" cy="569.4" r="3.7"/><circle cx="1439.2" cy="571.1" r="3.7"/><circle cx="1442.5" cy="571.5" r="3.7"/><circle cx="1453.4" cy="572.6" r="3.7"/><circle cx="1464.4" cy="570.5" r="3.7"/><circle cx="1467.7" cy="575.9" r="3.7"/><circle cx="1473.2" cy="572.6" r="3.7"/><circle cx="1480.9" cy="578.1" r="3.7"/><circle cx="1484.2" cy="580.3" r="3.7"/><circle cx="1487.5" cy="582.5" r="3.7"/><circle cx="1491.9" cy="584.7" r="3.7"/><circle cx="1496.3" cy="586.9" r="3.7"/><circle cx="1502.9" cy="589.1" r="3.7"/><circle cx="1442.2" cy="570.7" r="3.7"/><circle cx="1454.3" cy="572.9" r="3.7"/><circle cx="1464.2" cy="569.7" r="3.7"/><circle cx="1467.5" cy="575.1" r="3.7"/><circle cx="1472.9" cy="572.9" r="3.7"/><circle cx="1479.5" cy="579.5" r="3.7"/><circle cx="1483.9" cy="578.4" r="3.7"/><circle cx="1488.3" cy="583.9" r="3.7"/><circle cx="1491.6" cy="585.0" r="3.7"/><circle cx="1494.9" cy="587.2" r="3.7"/><circle cx="1499.3" cy="592.7" r="3.7"/><circle cx="1503.7" cy="593.8" r="3.7"/><circle cx="1510.3" cy="592.7" r="3.7"/><circle cx="1511.4" cy="596.0" r="3.7"/><circle cx="1514.7" cy="600.4" r="3.7"/><circle cx="1518.0" cy="597.1" r="3.7"/><circle cx="1521.3" cy="596.0" r="3.7"/><circle cx="1525.7" cy="595.3" r="3.7"/><circle cx="1530.1" cy="593.8" r="3.7"/><circle cx="1536.6" cy="594.9" r="3.7"/><circle cx="1537.7" cy="599.3" r="3.7"/><circle cx="1536.6" cy="603.7" r="3.7"/><circle cx="1547.6" cy="600.4" r="3.7"/><circle cx="1550.9" cy="602.6" r="3.7"/><circle cx="1554.2" cy="604.8" r="3.7"/><circle cx="1558.6" cy="609.2" r="3.7"/><circle cx="1566.3" cy="605.9" r="3.7"/><circle cx="1570.7" cy="608.5" r="3.7"/><circle cx="1574.0" cy="610.3" r="3.7"/><circle cx="1580.6" cy="611.4" r="3.7"/><circle cx="1582.8" cy="614.7" r="3.7"/><circle cx="1585.0" cy="616.9" r="3.7"/><circle cx="1589.4" cy="616.9" r="3.7"/><circle cx="1593.7" cy="616.9" r="3.7"/><circle cx="1597.0" cy="620.2" r="3.7"/><circle cx="1600.3" cy="622.4" r="3.7"/><circle cx="1604.7" cy="619.1" r="3.7"/><circle cx="1608.0" cy="622.4" r="3.7"/><circle cx="1611.3" cy="623.5" r="3.7"/><circle cx="1614.6" cy="621.3" r="3.7"/><circle cx="1617.9" cy="619.1" r="3.7"/><circle cx="1622.3" cy="620.2" r="3.7"/><circle cx="1628.9" cy="620.2" r="3.7"/><circle cx="1634.4" cy="621.3" r="3.7"/><circle cx="1638.8" cy="619.1" r="3.7"/><circle cx="1642.1" cy="616.9" r="3.7"/><circle cx="1646.5" cy="616.9" r="3.7"/><circle cx="1648.7" cy="621.3" r="3.7"/><circle cx="1654.1" cy="615.8" r="3.7"/><circle cx="1662.9" cy="612.5" r="3.7"/><circle cx="1664.0" cy="618.0" r="3.7"/><circle cx="1662.9" cy="624.6" r="3.7"/><circle cx="1667.3" cy="623.0" r="3.7"/><circle cx="1670.6" cy="623.5" r="3.7"/><circle cx="1676.1" cy="626.8" r="3.7"/><circle cx="1686.0" cy="623.5" r="3.7"/><circle cx="1691.5" cy="623.0" r="3.7"/><circle cx="1697.0" cy="623.5" r="3.7"/><circle cx="1705.8" cy="624.6" r="3.7"/><circle cx="1704.7" cy="630.1" r="3.7"/><circle cx="1708.4" cy="632.7" r="3.7"/><circle cx="1711.2" cy="635.5" r="3.7"/><circle cx="1716.7" cy="630.1" r="3.7"/><circle cx="1727.7" cy="621.3" r="3.7"/><circle cx="1728.8" cy="629.0" r="3.7"/><circle cx="1733.2" cy="627.9" r="3.7"/><circle cx="1736.5" cy="629.0" r="3.7"/><circle cx="1742.0" cy="632.2" r="3.7"/><circle cx="1748.6" cy="624.6" r="3.7"/><circle cx="1753.0" cy="626.1" r="3.7"/><circle cx="1756.3" cy="625.7" r="3.7"/><circle cx="1760.7" cy="623.5" r="3.7"/><circle cx="1768.8" cy="619.1" r="3.7"/><circle cx="1769.5" cy="626.8" r="3.7"/><circle cx="1773.8" cy="625.2" r="3.7"/><circle cx="1778.2" cy="625.7" r="3.7"/><circle cx="1650.0" cy="616.6" r="3.7"/><circle cx="1655.5" cy="615.5" r="3.7"/><circle cx="1663.2" cy="612.2" r="3.7"/><circle cx="1665.4" cy="617.7" r="3.7"/><circle cx="1662.1" cy="623.2" r="3.7"/><circle cx="1669.8" cy="623.2" r="3.7"/><circle cx="1676.4" cy="626.5" r="3.7"/><circle cx="1685.1" cy="623.2" r="3.7"/><circle cx="1693.9" cy="623.2" r="3.7"/><circle cx="1700.5" cy="622.8" r="3.7"/><circle cx="1704.9" cy="625.4" r="3.7"/><circle cx="1706.0" cy="629.8" r="3.7"/><circle cx="1711.5" cy="635.3" r="3.7"/><circle cx="1715.9" cy="629.8" r="3.7"/><circle cx="1728.0" cy="621.0" r="3.7"/><circle cx="1729.1" cy="628.7" r="3.7"/><circle cx="1733.5" cy="629.8" r="3.7"/><circle cx="1739.0" cy="630.9" r="3.7"/><circle cx="1742.2" cy="633.1" r="3.7"/><circle cx="1746.6" cy="623.2" r="3.7"/><circle cx="1751.0" cy="625.4" r="3.7"/><circle cx="1755.4" cy="623.2" r="3.7"/><circle cx="1759.8" cy="622.1" r="3.7"/><circle cx="1764.2" cy="624.3" r="3.7"/><circle cx="1768.6" cy="618.8" r="3.7"/><circle cx="1769.7" cy="627.6" r="3.7"/><circle cx="1775.2" cy="627.6" r="3.7"/><circle cx="1781.8" cy="623.2" r="3.7"/><circle cx="1786.2" cy="625.4" r="3.7"/><circle cx="1792.8" cy="625.4" r="3.7"/><circle cx="1801.5" cy="623.2" r="3.7"/><circle cx="1802.6" cy="632.0" r="3.7"/><circle cx="1813.6" cy="629.8" r="3.7"/><circle cx="1812.5" cy="627.6" r="3.7"/><circle cx="1823.5" cy="622.1" r="3.7"/><circle cx="1829.0" cy="623.2" r="3.7"/><circle cx="1832.3" cy="616.6" r="3.7"/><circle cx="1836.7" cy="616.6" r="3.7"/><circle cx="1841.1" cy="619.9" r="3.7"/><circle cx="1847.7" cy="621.0" r="3.7"/><circle cx="1854.3" cy="623.2" r="3.7"/><circle cx="1860.8" cy="625.4" r="3.7"/><circle cx="1866.3" cy="622.1" r="3.7"/><circle cx="1869.6" cy="618.8" r="3.7"/><circle cx="1875.1" cy="615.5" r="3.7"/><circle cx="1880.6" cy="612.2" r="3.7"/><circle cx="1881.1" cy="626.5" r="3.7"/><circle cx="1885.0" cy="614.4" r="3.7"/><circle cx="1889.4" cy="610.1" r="3.7"/><circle cx="1893.8" cy="615.5" r="3.7"/><circle cx="1900.4" cy="619.9" r="3.7"/><circle cx="1905.9" cy="617.7" r="3.7"/><circle cx="1913.6" cy="612.2" r="3.7"/><circle cx="1916.9" cy="616.6" r="3.7"/><circle cx="1959.8" cy="598.1" r="3.7"/><circle cx="1900.7" cy="614.8" r="3.7"/><circle cx="1883.9" cy="615.4" r="3.7"/><circle cx="1863.0" cy="624.5" r="3.7"/><circle cx="1868.8" cy="623.8" r="3.7"/><circle cx="1878.7" cy="615.3" r="3.7"/><circle cx="1915.1" cy="613.7" r="3.7"/><circle cx="1835.8" cy="617.7" r="3.7"/><circle cx="1874.8" cy="614.6" r="3.7"/><circle cx="1959.5" cy="599.8" r="3.7"/><circle cx="1893.1" cy="611.2" r="3.7"/><circle cx="1896.3" cy="618.7" r="3.7"/><circle cx="1836.3" cy="615.1" r="3.7"/><circle cx="1863.8" cy="623.0" r="3.7"/><circle cx="1893.0" cy="618.5" r="3.7"/><circle cx="1830.8" cy="617.8" r="3.7"/><circle cx="1958.4" cy="603.9" r="3.7"/><circle cx="1916.0" cy="609.9" r="3.7"/><circle cx="1884.1" cy="613.8" r="3.7"/><circle cx="1849.8" cy="619.8" r="3.7"/><circle cx="1867.8" cy="623.8" r="3.7"/><circle cx="1919.7" cy="605.4" r="3.7"/><circle cx="1881.9" cy="613.6" r="3.7"/><circle cx="1825.6" cy="619.4" r="3.7"/><circle cx="1882.4" cy="613.3" r="3.7"/><circle cx="1834.8" cy="617.5" r="3.7"/><circle cx="1885.9" cy="610.6" r="3.7"/><circle cx="1957.2" cy="603.0" r="3.7"/><circle cx="1919.9" cy="613.4" r="3.7"/><circle cx="1877.2" cy="615.2" r="3.7"/><circle cx="1853.6" cy="624.3" r="3.7"/><circle cx="1880.7" cy="612.8" r="3.7"/><circle cx="1841.9" cy="619.0" r="3.7"/><circle cx="1908.7" cy="615.3" r="3.7"/><circle cx="1893.2" cy="611.7" r="3.7"/><circle cx="1920.2" cy="607.9" r="3.7"/><circle cx="1857.7" cy="624.1" r="3.7"/><circle cx="1866.2" cy="623.6" r="3.7"/><circle cx="1952.0" cy="606.2" r="3.7"/><circle cx="1870.8" cy="621.1" r="3.7"/><circle cx="1843.8" cy="622.0" r="3.7"/><circle cx="1920.5" cy="611.8" r="3.7"/><circle cx="1919.7" cy="613.7" r="3.7"/><circle cx="1823.4" cy="620.1" r="3.7"/><circle cx="1884.3" cy="616.4" r="3.7"/><circle cx="1903.8" cy="617.7" r="3.7"/><circle cx="1887.9" cy="611.5" r="3.7"/><circle cx="1893.6" cy="610.5" r="3.7"/><circle cx="1860.6" cy="625.6" r="3.7"/><circle cx="1847.8" cy="617.6" r="3.7"/><circle cx="1944.8" cy="607.9" r="3.7"/><circle cx="1868.1" cy="620.0" r="3.7"/><circle cx="1890.5" cy="612.3" r="3.7"/><circle cx="1922.4" cy="608.2" r="3.7"/><circle cx="1888.3" cy="610.2" r="3.7"/><circle cx="1886.9" cy="612.9" r="3.7"/><circle cx="1853.0" cy="620.5" r="3.7"/><circle cx="1932.3" cy="606.4" r="3.7"/><circle cx="1871.9" cy="616.4" r="3.7"/><circle cx="1856.3" cy="621.7" r="3.7"/><circle cx="1877.1" cy="613.5" r="3.7"/><circle cx="1852.9" cy="623.2" r="3.7"/><circle cx="1956.8" cy="601.8" r="3.7"/><circle cx="1895.3" cy="617.4" r="3.7"/><circle cx="1913.2" cy="612.7" r="3.7"/><circle cx="1837.5" cy="613.4" r="3.7"/><circle cx="1914.1" cy="615.1" r="3.7"/><circle cx="1846.4" cy="619.2" r="3.7"/><circle cx="1848.5" cy="620.1" r="3.7"/><circle cx="1940.8" cy="602.6" r="3.7"/><circle cx="1945.0" cy="602.3" r="3.7"/><circle cx="1887.4" cy="614.4" r="3.7"/><circle cx="1828.1" cy="619.7" r="3.7"/><circle cx="1947.7" cy="605.1" r="3.7"/><circle cx="1920.7" cy="605.4" r="3.7"/><circle cx="1868.5" cy="620.9" r="3.7"/><circle cx="1822.5" cy="622.9" r="3.7"/><circle cx="1850.9" cy="620.2" r="3.7"/><circle cx="1899.8" cy="617.6" r="3.7"/><circle cx="1932.8" cy="604.9" r="3.7"/><circle cx="1865.9" cy="619.8" r="3.7"/><circle cx="1899.2" cy="618.3" r="3.7"/><circle cx="1829.0" cy="619.2" r="3.7"/><circle cx="1956.5" cy="603.6" r="3.7"/><circle cx="1823.9" cy="622.7" r="3.7"/><circle cx="1899.6" cy="618.4" r="3.7"/><circle cx="1945.8" cy="608.0" r="3.7"/><circle cx="1873.8" cy="620.1" r="3.7"/><circle cx="1818.8" cy="622.4" r="3.7"/><circle cx="1870.7" cy="620.3" r="3.7"/><circle cx="1916.9" cy="607.9" r="3.7"/><circle cx="1942.2" cy="607.6" r="3.7"/><circle cx="1821.7" cy="623.9" r="3.7"/><circle cx="1834.4" cy="620.3" r="3.7"/><circle cx="1949.3" cy="608.3" r="3.7"/><circle cx="1865.3" cy="621.4" r="3.7"/><circle cx="1954.3" cy="604.5" r="3.7"/><circle cx="1873.9" cy="620.4" r="3.7"/><circle cx="1960.0" cy="602.8" r="3.7"/><circle cx="1949.3" cy="606.6" r="3.7"/><circle cx="1927.4" cy="605.0" r="3.7"/><circle cx="1864.4" cy="625.0" r="3.7"/><circle cx="1936.0" cy="603.4" r="3.7"/><circle cx="1851.3" cy="625.0" r="3.7"/><circle cx="1837.1" cy="616.8" r="3.7"/><circle cx="1953.4" cy="609.3" r="3.7"/><circle cx="1859.0" cy="625.0" r="3.7"/><circle cx="1875.0" cy="619.2" r="3.7"/><circle cx="1946.5" cy="606.1" r="3.7"/><circle cx="1903.7" cy="617.4" r="3.7"/><circle cx="1895.2" cy="614.9" r="3.7"/><circle cx="1865.7" cy="617.9" r="3.7"/><circle cx="1895.4" cy="615.7" r="3.7"/><circle cx="1951.7" cy="608.2" r="3.7"/><circle cx="1922.9" cy="613.4" r="3.7"/><circle cx="1842.0" cy="617.8" r="3.7"/><circle cx="1878.6" cy="613.5" r="3.7"/><circle cx="1853.3" cy="621.7" r="3.7"/><circle cx="1839.2" cy="618.1" r="3.7"/><circle cx="1858.1" cy="626.4" r="3.7"/><circle cx="1907.8" cy="620.1" r="3.7"/><circle cx="1864.1" cy="624.3" r="3.7"/><circle cx="1849.8" cy="622.9" r="3.7"/><circle cx="1840.7" cy="618.0" r="3.7"/><circle cx="1825.9" cy="623.2" r="3.7"/><circle cx="1883.8" cy="608.1" r="3.7"/><circle cx="1953.9" cy="605.2" r="3.7"/><circle cx="1905.1" cy="617.6" r="3.7"/><circle cx="1848.6" cy="621.5" r="3.7"/><circle cx="1940.5" cy="603.3" r="3.7"/><circle cx="1907.4" cy="619.2" r="3.7"/><circle cx="1841.2" cy="618.2" r="3.7"/><circle cx="1884.7" cy="613.9" r="3.7"/><circle cx="1916.4" cy="613.7" r="3.7"/><circle cx="1948.9" cy="607.5" r="3.7"/><circle cx="1958.1" cy="602.4" r="3.7"/><circle cx="1884.7" cy="611.0" r="3.7"/><circle cx="1886.0" cy="614.6" r="3.7"/><circle cx="1853.0" cy="624.2" r="3.7"/><circle cx="1863.9" cy="622.2" r="3.7"/><circle cx="1906.1" cy="617.7" r="3.7"/><circle cx="1902.2" cy="619.5" r="3.7"/><circle cx="1879.5" cy="613.4" r="3.7"/><circle cx="1873.4" cy="617.3" r="3.7"/><circle cx="1820.9" cy="623.0" r="3.7"/><circle cx="1880.4" cy="611.4" r="3.7"/><circle cx="1855.9" cy="623.0" r="3.7"/><circle cx="1823.8" cy="619.0" r="3.7"/><circle cx="1885.9" cy="613.0" r="3.7"/><circle cx="1845.1" cy="621.7" r="3.7"/><circle cx="1863.6" cy="621.5" r="3.7"/><circle cx="1955.2" cy="604.6" r="3.7"/><circle cx="1897.4" cy="616.1" r="3.7"/><circle cx="1826.4" cy="621.2" r="3.7"/><circle cx="1826.0" cy="618.9" r="3.7"/><circle cx="1879.5" cy="614.6" r="3.7"/><circle cx="1919.4" cy="611.3" r="3.7"/><circle cx="1860.4" cy="622.6" r="3.7"/><circle cx="1863.0" cy="626.3" r="3.7"/><circle cx="1920.6" cy="611.0" r="3.7"/><circle cx="1887.1" cy="611.0" r="3.7"/><circle cx="1822.9" cy="622.6" r="3.7"/><circle cx="1843.2" cy="622.3" r="3.7"/><circle cx="1876.4" cy="617.0" r="3.7"/><circle cx="1905.3" cy="614.7" r="3.7"/><circle cx="1902.1" cy="619.3" r="3.7"/><circle cx="1915.3" cy="611.2" r="3.7"/><circle cx="1934.0" cy="603.0" r="3.7"/><circle cx="1860.2" cy="621.5" r="3.7"/><circle cx="1839.3" cy="618.9" r="3.7"/><circle cx="1916.8" cy="609.4" r="3.7"/><circle cx="1881.8" cy="615.3" r="3.7"/><circle cx="1854.1" cy="623.0" r="3.7"/><circle cx="1887.4" cy="609.3" r="3.7"/><circle cx="1894.7" cy="616.9" r="3.7"/><circle cx="1825.0" cy="624.3" r="3.7"/><circle cx="1918.0" cy="612.3" r="3.7"/><circle cx="1847.0" cy="621.6" r="3.7"/><circle cx="1935.2" cy="608.7" r="3.7"/><circle cx="1887.5" cy="611.5" r="3.7"/><circle cx="1899.3" cy="615.2" r="3.7"/><circle cx="1853.9" cy="624.1" r="3.7"/><circle cx="1873.6" cy="619.6" r="3.7"/><circle cx="1823.3" cy="622.9" r="3.7"/><circle cx="1833.9" cy="619.9" r="3.7"/><circle cx="1940.8" cy="606.3" r="3.7"/><circle cx="1876.3" cy="616.2" r="3.7"/><circle cx="1953.7" cy="603.3" r="3.7"/><circle cx="1818.3" cy="624.5" r="3.7"/><circle cx="1952.1" cy="607.3" r="3.7"/><circle cx="1830.8" cy="619.3" r="3.7"/><circle cx="1817.5" cy="623.1" r="3.7"/><circle cx="1827.5" cy="621.9" r="3.7"/><circle cx="1847.9" cy="619.4" r="3.7"/><circle cx="1883.4" cy="613.0" r="3.7"/><circle cx="1840.1" cy="617.5" r="3.7"/><circle cx="1826.6" cy="623.4" r="3.7"/><circle cx="1906.1" cy="619.1" r="3.7"/><circle cx="1859.5" cy="624.9" r="3.7"/><circle cx="1866.2" cy="621.5" r="3.7"/><circle cx="1926.4" cy="610.2" r="3.7"/><circle cx="1854.2" cy="620.4" r="3.7"/><circle cx="1880.2" cy="617.3" r="3.7"/><circle cx="1955.0" cy="605.0" r="3.7"/><circle cx="1864.3" cy="622.5" r="3.7"/><circle cx="1952.4" cy="604.9" r="3.7"/><circle cx="1820.6" cy="622.4" r="3.7"/><circle cx="1886.4" cy="610.3" r="3.7"/><circle cx="1898.1" cy="615.2" r="3.7"/><circle cx="1889.0" cy="610.9" r="3.7"/><circle cx="1893.0" cy="612.6" r="3.7"/><circle cx="1939.6" cy="600.5" r="3.7"/><circle cx="1888.9" cy="614.0" r="3.7"/><circle cx="1918.2" cy="611.5" r="3.7"/><circle cx="1944.9" cy="606.0" r="3.7"/><circle cx="1942.8" cy="605.6" r="3.7"/><circle cx="1853.2" cy="622.4" r="3.7"/><circle cx="1933.9" cy="607.6" r="3.7"/><circle cx="1875.6" cy="609.8" r="3.7"/><circle cx="1858.4" cy="621.1" r="3.7"/><circle cx="1889.7" cy="607.8" r="3.7"/><circle cx="1926.8" cy="606.1" r="3.7"/><circle cx="1863.8" cy="619.4" r="3.7"/><circle cx="1943.6" cy="607.5" r="3.7"/><circle cx="1830.3" cy="617.5" r="3.7"/><circle cx="1857.7" cy="625.7" r="3.7"/><circle cx="1829.9" cy="618.3" r="3.7"/><circle cx="1818.1" cy="623.1" r="3.7"/><circle cx="1960.2" cy="603.7" r="3.7"/><circle cx="1835.6" cy="616.3" r="3.7"/><circle cx="1828.9" cy="620.9" r="3.7"/><circle cx="1930.7" cy="609.1" r="3.7"/><circle cx="1935.4" cy="604.0" r="3.7"/><circle cx="1840.9" cy="618.1" r="3.7"/><circle cx="1829.9" cy="616.6" r="3.7"/><circle cx="1947.4" cy="608.1" r="3.7"/><circle cx="1866.5" cy="619.4" r="3.7"/><circle cx="1940.9" cy="602.7" r="3.7"/><circle cx="1858.9" cy="625.1" r="3.7"/><circle cx="1836.4" cy="617.0" r="3.7"/><circle cx="1848.5" cy="620.4" r="3.7"/><circle cx="1959.9" cy="604.5" r="3.7"/><circle cx="1936.7" cy="603.8" r="3.7"/><circle cx="1821.3" cy="622.5" r="3.7"/><circle cx="1920.2" cy="610.2" r="3.7"/><circle cx="1905.6" cy="616.0" r="3.7"/><circle cx="1870.2" cy="621.2" r="3.7"/><circle cx="1878.9" cy="616.0" r="3.7"/><circle cx="1954.8" cy="608.7" r="3.7"/><circle cx="1856.2" cy="623.5" r="3.7"/><circle cx="1832.1" cy="619.3" r="3.7"/><circle cx="1912.3" cy="613.2" r="3.7"/><circle cx="1936.7" cy="607.8" r="3.7"/><circle cx="1952.4" cy="601.5" r="3.7"/><circle cx="1886.0" cy="612.7" r="3.7"/><circle cx="1831.2" cy="619.4" r="3.7"/><circle cx="1878.4" cy="611.0" r="3.7"/><circle cx="1868.9" cy="619.3" r="3.7"/><circle cx="1904.5" cy="617.4" r="3.7"/><circle cx="1873.9" cy="616.8" r="3.7"/></g>
<g fill="#ee82ee"><circle cx="1758.7" cy="645.9" r="3.7"/><circle cx="1760.7" cy="645.6" r="3.7"/><circle cx="1764.6" cy="645.4" r="3.7"/><circle cx="1767.5" cy="645.1" r="3.7"/><circle cx="1771.5" cy="647.2" r="3.7"/><circle cx="1776.2" cy="646.0" r="3.7"/><circle cx="1779.3" cy="646.6" r="3.7"/><circle cx="1782.7" cy="645.7" r="3.7"/><circle cx="1785.3" cy="645.8" r="3.7"/><circle cx="1787.7" cy="646.1" r="3.7"/><circle cx="1735.4" cy="648.7" r="3.7"/><circle cx="1739.0" cy="649.1" r="3.7"/><circle cx="1741.9" cy="649.0" r="3.7"/><circle cx="1744.3" cy="648.7" r="3.7"/><circle cx="1747.8" cy="648.4" r="3.7"/><circle cx="1751.0" cy="648.9" r="3.7"/><circle cx="1752.5" cy="648.5" r="3.7"/><circle cx="1755.9" cy="649.1" r="3.7"/><circle cx="1758.5" cy="647.6" r="3.7"/><circle cx="1761.8" cy="649.4" r="3.7"/><circle cx="1765.0" cy="648.4" r="3.7"/><circle cx="1768.5" cy="647.0" r="3.7"/><circle cx="1771.7" cy="648.7" r="3.7"/><circle cx="1774.8" cy="648.9" r="3.7"/><circle cx="1777.7" cy="648.3" r="3.7"/><circle cx="1780.7" cy="648.5" r="3.7"/><circle cx="1785.3" cy="648.5" r="3.7"/><circle cx="1731.6" cy="650.5" r="3.7"/><circle cx="1733.9" cy="651.9" r="3.7"/><circle cx="1736.6" cy="650.3" r="3.7"/><circle cx="1740.4" cy="650.6" r="3.7"/><circle cx="1744.8" cy="649.2" r="3.7"/><circle cx="1746.7" cy="651.4" r="3.7"/><circle cx="1748.6" cy="650.4" r="3.7"/><circle cx="1752.7" cy="652.0" r="3.7"/><circle cx="1754.8" cy="649.8" r="3.7"/><circle cx="1759.1" cy="652.0" r="3.7"/><circle cx="1761.2" cy="649.3" r="3.7"/><circle cx="1765.4" cy="650.8" r="3.7"/><circle cx="1768.2" cy="650.9" r="3.7"/><circle cx="1770.2" cy="650.6" r="3.7"/><circle cx="1774.5" cy="651.9" r="3.7"/><circle cx="1774.9" cy="650.2" r="3.7"/><circle cx="1780.7" cy="650.6" r="3.7"/><circle cx="1723.0" cy="653.5" r="3.7"/><circle cx="1726.8" cy="653.4" r="3.7"/><circle cx="1729.6" cy="653.3" r="3.7"/><circle cx="1732.6" cy="653.7" r="3.7"/><circle cx="1735.4" cy="653.3" r="3.7"/><circle cx="1738.8" cy="654.4" r="3.7"/><circle cx="1742.2" cy="653.4" r="3.7"/><circle cx="1745.3" cy="653.8" r="3.7"/><circle cx="1748.7" cy="653.9" r="3.7"/><circle cx="1752.2" cy="654.4" r="3.7"/><circle cx="1753.9" cy="653.2" r="3.7"/><circle cx="1757.5" cy="653.9" r="3.7"/><circle cx="1759.9" cy="652.5" r="3.7"/><circle cx="1761.6" cy="653.7" r="3.7"/><circle cx="1766.5" cy="654.1" r="3.7"/><circle cx="1768.0" cy="654.2" r="3.7"/><circle cx="1771.6" cy="653.8" r="3.7"/><circle cx="1775.2" cy="652.9" r="3.7"/><circle cx="1777.5" cy="652.1" r="3.7"/><circle cx="1718.8" cy="654.9" r="3.7"/><circle cx="1722.7" cy="656.2" r="3.7"/><circle cx="1726.1" cy="656.4" r="3.7"/><circle cx="1728.0" cy="656.4" r="3.7"/><circle cx="1731.2" cy="656.5" r="3.7"/><circle cx="1734.6" cy="655.4" r="3.7"/><circle cx="1737.4" cy="656.2" r="3.7"/><circle cx="1740.2" cy="656.7" r="3.7"/><circle cx="1744.6" cy="655.9" r="3.7"/><circle cx="1746.2" cy="654.5" r="3.7"/><circle cx="1749.3" cy="655.8" r="3.7"/><circle cx="1750.9" cy="656.3" r="3.7"/><circle cx="1755.8" cy="655.6" r="3.7"/><circle cx="1758.2" cy="655.4" r="3.7"/><circle cx="1762.0" cy="655.1" r="3.7"/><circle cx="1717.7" cy="660.1" r="3.7"/><circle cx="1721.0" cy="659.1" r="3.7"/><circle cx="1723.8" cy="657.9" r="3.7"/><circle cx="1726.9" cy="659.0" r="3.7"/><circle cx="1729.2" cy="659.0" r="3.7"/><circle cx="1733.8" cy="659.5" r="3.7"/><circle cx="1734.8" cy="658.0" r="3.7"/><circle cx="1737.8" cy="659.5" r="3.7"/><circle cx="1742.4" cy="659.2" r="3.7"/><circle cx="1744.3" cy="657.9" r="3.7"/><circle cx="1748.0" cy="658.8" r="3.7"/><circle cx="1750.3" cy="658.8" r="3.7"/><circle cx="1754.4" cy="658.9" r="3.7"/><circle cx="1718.7" cy="659.9" r="3.7"/><circle cx="1722.2" cy="661.4" r="3.7"/><circle cx="1725.2" cy="661.0" r="3.7"/><circle cx="1727.9" cy="661.8" r="3.7"/><circle cx="1731.4" cy="661.4" r="3.7"/><circle cx="1733.7" cy="660.9" r="3.7"/><circle cx="1737.5" cy="660.6" r="3.7"/><circle cx="1739.5" cy="661.1" r="3.7"/><circle cx="1744.3" cy="661.5" r="3.7"/><circle cx="1747.4" cy="661.2" r="3.7"/><circle cx="1720.7" cy="663.0" r="3.7"/><circle cx="1723.5" cy="664.9" r="3.7"/><circle cx="1727.2" cy="664.5" r="3.7"/><circle cx="1730.4" cy="663.9" r="3.7"/><circle cx="1732.8" cy="664.0" r="3.7"/><circle cx="1736.4" cy="664.3" r="3.7"/><circle cx="1722.8" cy="666.7" r="3.7"/><circle cx="1724.9" cy="666.4" r="3.7"/><circle cx="1714.9" cy="658.0" r="3.7"/><circle cx="1720.8" cy="654.8" r="3.7"/><circle cx="1729.8" cy="650.3" r="3.7"/><circle cx="1738.4" cy="647.1" r="3.7"/><circle cx="1750.2" cy="648.2" r="3.7"/><circle cx="1756.5" cy="645.1" r="3.7"/><circle cx="1766.0" cy="643.1" r="3.7"/><circle cx="1774.2" cy="646.0" r="3.7"/><circle cx="1784.1" cy="643.7" r="3.7"/><circle cx="1789.5" cy="645.3" r="3.7"/><circle cx="1783.2" cy="650.3" r="3.7"/><circle cx="1776.9" cy="654.6" r="3.7"/><circle cx="1763.3" cy="655.5" r="3.7"/><circle cx="1756.1" cy="658.7" r="3.7"/><circle cx="1748.8" cy="661.0" r="3.7"/><circle cx="1738.0" cy="664.1" r="3.7"/><circle cx="1727.1" cy="666.9" r="3.7"/><circle cx="1722.2" cy="668.8" r="3.7"/><circle cx="1718.5" cy="665.2" r="3.7"/><circle cx="1717.2" cy="661.6" r="3.7"/><circle cx="1789.5" cy="645.6" r="3.7"/><circle cx="1792.7" cy="646.2" r="3.7"/><circle cx="1795.9" cy="646.0" r="3.7"/><circle cx="1799.5" cy="646.8" r="3.7"/><circle cx="1804.0" cy="647.3" r="3.7"/><circle cx="1806.3" cy="646.4" r="3.7"/><circle cx="1808.5" cy="645.8" r="3.7"/><circle cx="1812.2" cy="644.9" r="3.7"/><circle cx="1814.9" cy="645.6" r="3.7"/><circle cx="1817.6" cy="646.0" r="3.7"/><circle cx="1820.7" cy="646.4" r="3.7"/><circle cx="1823.9" cy="647.0" r="3.7"/><circle cx="1825.3" cy="644.2" r="3.7"/><circle cx="1828.9" cy="642.6" r="3.7"/><circle cx="1841.6" cy="642.6" r="3.7"/><circle cx="1795.9" cy="647.1" r="3.7"/><circle cx="1804.0" cy="646.2" r="3.7"/><circle cx="1811.3" cy="646.2" r="3.7"/></g>
<g fill="#ffa500"><circle cx="1880.3" cy="198.1" r="3.7"/><circle cx="1880.3" cy="204.6" r="3.7"/><circle cx="1875.3" cy="216.5" r="3.7"/><circle cx="1870.8" cy="231.1" r="3.7"/><circle cx="1862.2" cy="247.1" r="3.7"/><circle cx="1910.3" cy="209.1" r="3.7"/><circle cx="1852.4" cy="272.4" r="3.7"/><circle cx="1853.6" cy="282.5" r="3.7"/><circle cx="1883.6" cy="285.8" r="3.7"/><circle cx="1842.3" cy="311.4" r="3.7"/><circle cx="1830.6" cy="339.1" r="3.7"/><circle cx="1861.1" cy="367.0" r="3.7"/><circle cx="1819.8" cy="371.2" r="3.7"/><circle cx="1804.3" cy="407.9" r="3.7"/><circle cx="1800.6" cy="438.4" r="3.7"/><circle cx="1838.4" cy="438.4" r="3.7"/><circle cx="1790.8" cy="471.5" r="3.7"/><circle cx="1814.6" cy="497.3" r="3.7"/><circle cx="1777.9" cy="504.6" r="3.7"/><circle cx="1793.4" cy="541.3" r="3.7"/><circle cx="1782.5" cy="569.7" r="3.7"/><circle cx="1782.5" cy="577.5" r="3.7"/><circle cx="1905.3" cy="127.3" r="3.7"/><circle cx="1908.6" cy="128.3" r="3.7"/><circle cx="1911.1" cy="127.6" r="3.7"/><circle cx="1913.7" cy="127.6" r="3.7"/><circle cx="1915.9" cy="127.7" r="3.7"/><circle cx="1903.4" cy="129.3" r="3.7"/><circle cx="1908.0" cy="129.2" r="3.7"/><circle cx="1908.6" cy="130.2" r="3.7"/><circle cx="1910.7" cy="129.3" r="3.7"/><circle cx="1914.1" cy="129.2" r="3.7"/><circle cx="1898.7" cy="132.8" r="3.7"/><circle cx="1902.7" cy="133.2" r="3.7"/><circle cx="1905.7" cy="133.0" r="3.7"/><circle cx="1907.4" cy="133.4" r="3.7"/><circle cx="1910.4" cy="132.1" r="3.7"/><circle cx="1915.0" cy="133.2" r="3.7"/><circle cx="1917.0" cy="133.2" r="3.7"/><circle cx="1901.0" cy="134.1" r="3.7"/><circle cx="1903.2" cy="134.2" r="3.7"/><circle cx="1906.4" cy="134.6" r="3.7"/><circle cx="1910.4" cy="135.6" r="3.7"/><circle cx="1911.6" cy="135.1" r="3.7"/><circle cx="1914.3" cy="135.2" r="3.7"/><circle cx="1918.7" cy="135.4" r="3.7"/><circle cx="1897.2" cy="137.5" r="3.7"/><circle cx="1902.2" cy="138.0" r="3.7"/><circle cx="1905.7" cy="136.7" r="3.7"/><circle cx="1908.2" cy="137.3" r="3.7"/><circle cx="1910.9" cy="138.1" r="3.7"/><circle cx="1914.3" cy="137.3" r="3.7"/><circle cx="1916.9" cy="136.8" r="3.7"/><circle cx="1918.7" cy="138.2" r="3.7"/><circle cx="1903.2" cy="139.1" r="3.7"/><circle cx="1905.6" cy="140.4" r="3.7"/><circle cx="1910.5" cy="141.2" r="3.7"/><circle cx="1912.9" cy="139.0" r="3.7"/><circle cx="1915.2" cy="140.8" r="3.7"/><circle cx="1918.6" cy="140.7" r="3.7"/><circle cx="1904.6" cy="144.4" r="3.7"/><circle cx="1909.0" cy="142.9" r="3.7"/><circle cx="1910.0" cy="144.6" r="3.7"/><circle cx="1913.3" cy="143.9" r="3.7"/><circle cx="1918.3" cy="142.2" r="3.7"/><circle cx="1906.5" cy="145.3" r="3.7"/><circle cx="1909.7" cy="145.9" r="3.7"/><circle cx="1913.8" cy="146.1" r="3.7"/><circle cx="1915.3" cy="146.5" r="3.7"/><circle cx="1904.6" cy="147.9" r="3.7"/><circle cx="1909.6" cy="147.6" r="3.7"/><circle cx="1910.4" cy="148.2" r="3.7"/><circle cx="1912.9" cy="146.5" r="3.7"/><circle cx="1917.6" cy="147.6" r="3.7"/><circle cx="1905.8" cy="150.5" r="3.7"/><circle cx="1908.5" cy="150.0" r="3.7"/><circle cx="1912.4" cy="152.7" r="3.7"/><circle cx="1915.9" cy="151.4" r="3.7"/><circle cx="1906.6" cy="153.4" r="3.7"/><circle cx="1909.8" cy="154.0" r="3.7"/><circle cx="1913.6" cy="153.5" r="3.7"/><circle cx="1916.7" cy="153.0" r="3.7"/><circle cx="1908.1" cy="156.5" r="3.7"/><circle cx="1911.2" cy="155.1" r="3.7"/><circle cx="1915.0" cy="155.5" r="3.7"/><circle cx="1918.5" cy="156.8" r="3.7"/><circle cx="1908.0" cy="158.8" r="3.7"/><circle cx="1910.8" cy="159.3" r="3.7"/><circle cx="1912.3" cy="158.9" r="3.7"/><circle cx="1916.0" cy="157.7" r="3.7"/><circle cx="1906.3" cy="161.0" r="3.7"/><circle cx="1909.7" cy="162.1" r="3.7"/><circle cx="1910.4" cy="161.2" r="3.7"/><circle cx="1916.8" cy="162.0" r="3.7"/><circle cx="1908.9" cy="164.0" r="3.7"/><circle cx="1909.6" cy="163.0" r="3.7"/><circle cx="1914.3" cy="164.6" r="3.7"/><circle cx="1916.2" cy="163.7" r="3.7"/><circle cx="1912.5" cy="165.1" r="3.7"/><circle cx="1915.0" cy="167.8" r="3.7"/><circle cx="1920.0" cy="166.4" r="3.7"/><circle cx="1918.2" cy="168.7" r="3.7"/><circle cx="1897.3" cy="133.5" r="3.7"/><circle cx="1904.9" cy="127.1" r="3.7"/><circle cx="1911.9" cy="124.8" r="3.7"/><circle cx="1918.8" cy="126.5" r="3.7"/><circle cx="1916.5" cy="131.7" r="3.7"/><circle cx="1922.3" cy="138.1" r="3.7"/><circle cx="1917.4" cy="143.4" r="3.7"/><circle cx="1916.7" cy="149.2" r="3.7"/><circle cx="1921.2" cy="156.2" r="3.7"/><circle cx="1917.4" cy="162.0" r="3.7"/><circle cx="1920.0" cy="168.4" r="3.7"/><circle cx="1916.5" cy="169.5" r="3.7"/><circle cx="1913.0" cy="169.0" r="3.7"/><circle cx="1906.6" cy="164.3" r="3.7"/><circle cx="1906.0" cy="159.7" r="3.7"/><circle cx="1907.4" cy="153.8" r="3.7"/><circle cx="1904.9" cy="149.8" r="3.7"/><circle cx="1904.3" cy="145.1" r="3.7"/><circle cx="1899.1" cy="138.7" r="3.7"/><circle cx="1927.0" cy="121.9" r="3.7"/><circle cx="1909.5" cy="174.8" r="3.7"/><circle cx="1897.9" cy="149.8" r="3.7"/><circle cx="1891.5" cy="154.4" r="3.7"/><circle cx="1895.0" cy="157.9" r="3.7"/><circle cx="1890.9" cy="162.0" r="3.7"/><circle cx="1892.1" cy="169.5" r="3.7"/><circle cx="1887.4" cy="175.3" r="3.7"/><circle cx="1890.9" cy="177.7" r="3.7"/><circle cx="1886.3" cy="185.8" r="3.7"/></g>
</svg>
</body></html>
